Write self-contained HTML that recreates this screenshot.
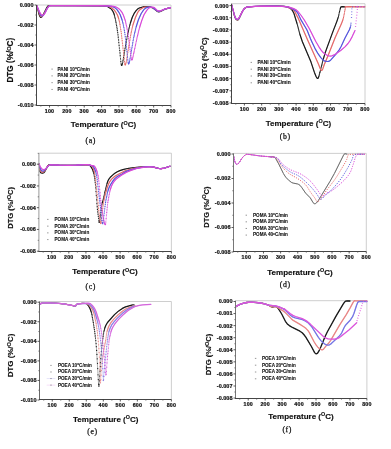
<!DOCTYPE html>
<html><head><meta charset="utf-8"><style>
html,body{margin:0;padding:0;background:#fff;}
svg{display:block;font-family:"Liberation Sans", sans-serif;}
</style></head><body>
<svg width="391" height="449" viewBox="0 0 391 449" xmlns="http://www.w3.org/2000/svg">
<defs><filter id="bl" x="0" y="0" width="391" height="449" filterUnits="userSpaceOnUse"><feGaussianBlur stdDeviation="0.22"/></filter></defs>
<rect width="391" height="449" fill="#fff"/>
<g filter="url(#bl)">
<line x1="36.5" y1="5" x2="171" y2="5" stroke="#c8c8c8" stroke-width="0.9"/>
<line x1="171" y1="5" x2="171" y2="105.5" stroke="#c8c8c8" stroke-width="0.9"/>
<path d="M36.8,5.6L39.2,14.7L40.1,16.8L40.9,17.4L41.6,17.1L42.4,16.2L46.2,8.6L47.5,6.5L48.6,5.5L102.4,5.9L107.2,6.5L110.3,8.3L111.9,9.8L113.6,12.9L114.7,16.5L116.0,22.4L117.9,34.2L121.0,62.9L121.3,64.8L121.7,65.5L122.2,64.7L122.7,62.4L127.2,36.7L129.9,24.8L131.4,19.6L132.7,16.3L134.4,13.0L136.2,10.5L137.4,9.2L139.1,8.2L144.3,6.6L149.0,6.9L152.1,7.6L153.7,8.5L157.0,11.2L158.8,11.8L160.6,11.4L164.7,9.2L170.5,7.7" fill="none" stroke="#1a1a1a" stroke-opacity="0.45" stroke-width="0.75"/>
<path d="M36.8,5.6l.01,0M37.1,6.8l.01,0M37.4,7.9l.01,0M37.6,9.1l.01,0M37.9,10.2l.01,0M38.2,11.3l.01,0M38.5,12.3L39.3,15.1L40.2,16.9L40.7,17.4L41.6,17.2L42.7,15.7L46.6,7.9L47.7,6.3L48.6,5.5L101.5,5.9L105.1,6.1L107.1,6.4L107.9,6.8L110.4,8.4L111.6,9.4L113.0,11.5L113.8,13.3L114.4,15.1M114.6,16.1l.01,0M114.9,17.3l.01,0M115.2,18.5l.01,0M115.5,19.8l.01,0M115.8,21.1l.01,0M116.0,22.5l.01,0M116.3,24.0l.01,0M116.6,25.5l.01,0M116.9,27.1l.01,0M117.2,28.8l.01,0M117.4,30.6l.01,0M117.7,32.6l.01,0M118.0,34.8l.01,0M118.3,37.2l.01,0M118.6,39.9l.01,0M118.8,42.6l.01,0M119.1,45.3l.01,0M119.4,48.0l.01,0M119.7,50.5l.01,0M120.0,52.9l.01,0M120.2,55.7l.01,0M120.5,58.8l.01,0M120.8,61.6l.01,0M121.1,63.8l.01,0M121.4,65.0L121.6,65.5L121.9,65.3L122.2,64.6M122.5,63.5l.01,0M122.8,62.2l.01,0M123.0,60.7l.01,0M123.3,59.1l.01,0M123.6,57.4l.01,0M123.9,55.6l.01,0M124.2,53.9l.01,0M124.4,52.1l.01,0M124.7,50.3l.01,0M125.0,48.7l.01,0M125.3,47.1l.01,0M125.6,45.6l.01,0M125.8,44.1l.01,0M126.1,42.6l.01,0M126.4,41.0l.01,0M126.7,39.5l.01,0M127.0,38.0l.01,0M127.2,36.5l.01,0M127.5,35.1l.01,0M127.8,33.7l.01,0M128.1,32.4l.01,0M128.4,31.2l.01,0M128.6,30.0l.01,0M128.9,28.8l.01,0M129.2,27.7l.01,0M129.5,26.5l.01,0M129.8,25.4l.01,0M130.0,24.4l.01,0M130.3,23.3L132.3,17.3L134.5,12.8L135.9,10.8L137.3,9.3L138.4,8.5L139.8,7.8L144.3,6.6L148.0,6.7L150.5,7.1L153.0,8.0L156.9,11.1L158.0,11.7L158.9,11.8L160.6,11.4L164.8,9.2L170.5,7.7" fill="none" stroke="#1a1a1a" stroke-width="1.2" stroke-linecap="round" stroke-linejoin="round"/>
<path d="M36.8,5.6L39.7,14.5L40.6,16.2L41.4,16.7L42.2,16.4L43.0,15.6L47.1,8.1L48.4,6.3L49.5,5.5L103.1,5.8L108.7,6.4L112.1,8.2L114.4,10.2L116.5,13.4L118.0,16.4L119.2,20.6L121.2,32.5L124.6,62.7L124.8,64.4L125.2,65.0L125.6,64.3L126.3,61.6L130.6,35.5L132.4,27.3L133.7,22.4L135.5,17.3L137.1,13.6L138.6,11.1L140.1,9.5L142.0,8.2L143.5,7.4L145.2,7.1L149.1,7.0L152.2,7.6L153.8,8.4L157.0,10.9L158.8,11.5L160.6,11.2L164.7,9.2L170.5,7.7" fill="none" stroke="#e46a6a" stroke-opacity="0.45" stroke-width="0.75"/>
<path d="M36.8,5.6L39.6,14.3L40.7,16.4L41.6,16.6L42.1,16.4L43.0,15.6L47.2,8.0L48.3,6.5L49.4,5.5L96.7,5.7L103.7,5.8L107.9,6.2L109.6,6.7L111.6,7.8L113.0,8.8L114.4,10.2L116.0,12.5L117.2,14.5L118.0,16.5L118.8,19.2M119.1,20.3l.01,0M119.4,21.6l.01,0M119.7,22.9l.01,0M120.0,24.4l.01,0M120.2,26.1l.01,0M120.5,27.8l.01,0M120.8,29.7l.01,0M121.1,31.6l.01,0M121.4,33.6l.01,0M121.6,35.9l.01,0M121.9,38.2l.01,0M122.2,40.7l.01,0M122.5,43.2l.01,0M122.8,45.7l.01,0M123.0,48.1l.01,0M123.3,50.5l.01,0M123.6,52.8l.01,0M123.9,55.6l.01,0M124.2,58.7l.01,0M124.4,61.7l.01,0M124.7,63.8l.01,0M125.0,64.8L125.3,65.0L125.8,63.6M126.1,62.3l.01,0M126.4,60.9l.01,0M126.7,59.2l.01,0M127.0,57.5l.01,0M127.2,55.8l.01,0M127.5,54.0l.01,0M127.8,52.2l.01,0M128.1,50.5l.01,0M128.4,48.8l.01,0M128.6,47.2l.01,0M128.9,45.6l.01,0M129.2,44.0l.01,0M129.5,42.3l.01,0M129.8,40.6l.01,0M130.0,39.0l.01,0M130.3,37.3l.01,0M130.6,35.7l.01,0M130.9,34.1l.01,0M131.2,32.7l.01,0M131.4,31.3l.01,0M131.7,30.0l.01,0M132.0,28.8l.01,0M132.3,27.6l.01,0M132.6,26.5l.01,0M132.8,25.4L135.4,17.6L137.6,12.7L138.7,11.0L139.8,9.8L142.9,7.7L144.6,7.1L146.6,7.0L149.4,7.1L151.6,7.4L153.6,8.2L157.2,11.0L158.0,11.4L158.9,11.5L160.6,11.2L164.8,9.2L170.5,7.7" fill="none" stroke="#e46a6a" stroke-width="1.2" stroke-linecap="round" stroke-linejoin="round"/>
<path d="M36.8,5.6L40.1,14.1L41.0,15.6L41.9,15.9L42.8,15.7L43.7,14.9L47.5,7.9L48.8,6.3L50.1,5.5L103.8,5.8L111.6,6.4L113.3,6.9L115.0,7.8L117.1,9.8L120.0,14.2L121.4,17.6L122.9,23.1L124.8,33.3L128.0,61.3L128.3,63.4L128.6,64.0L129.0,63.5L129.6,61.3L133.6,38.2L136.1,27.2L137.6,22.3L139.2,18.0L141.1,13.8L142.9,10.8L144.2,9.3L145.6,8.2L147.1,7.4L148.9,7.1L150.7,7.1L152.5,7.6L157.0,10.7L158.8,11.3L160.6,11.0L164.7,9.1L170.5,7.7" fill="none" stroke="#5555dc" stroke-opacity="0.45" stroke-width="0.75"/>
<path d="M36.8,5.6L40.2,14.2L41.0,15.6L41.8,15.9L42.7,15.8L43.5,15.1L44.9,12.8L47.4,8.0L48.8,6.3L50.0,5.5L97.6,5.7L106.0,5.9L111.6,6.4L113.2,6.9L114.9,7.7L116.0,8.6L117.2,9.8L119.1,12.7L120.2,14.8L122.2,20.3M122.5,21.3l.01,0M122.8,22.4l.01,0M123.0,23.5l.01,0M123.3,24.8l.01,0M123.6,26.1l.01,0M123.9,27.5l.01,0M124.2,29.0l.01,0M124.4,30.6l.01,0M124.7,32.4l.01,0M125.0,34.5l.01,0M125.3,36.7l.01,0M125.6,39.1l.01,0M125.8,41.6l.01,0M126.1,44.2l.01,0M126.4,46.8l.01,0M126.7,49.3l.01,0M127.0,51.7l.01,0M127.2,54.1l.01,0M127.5,56.9l.01,0M127.8,59.9l.01,0M128.1,62.2l.01,0M128.4,63.6L128.6,64.0L129.2,62.8M129.5,61.7l.01,0M129.8,60.2l.01,0M130.0,58.7l.01,0M130.3,57.0l.01,0M130.6,55.3l.01,0M130.9,53.6l.01,0M131.2,51.9l.01,0M131.4,50.3l.01,0M131.7,48.8l.01,0M132.0,47.2l.01,0M132.3,45.6l.01,0M132.6,43.9l.01,0M132.8,42.3l.01,0M133.1,40.6l.01,0M133.4,39.1l.01,0M133.7,37.6l.01,0M134.0,36.2l.01,0M134.2,34.9l.01,0M134.5,33.6l.01,0M134.8,32.4l.01,0M135.1,31.2l.01,0M135.4,30.0l.01,0M135.6,28.9l.01,0M135.9,27.8l.01,0M136.2,26.8L138.4,19.8L141.2,13.5L143.5,10.1L144.6,8.9L146.0,7.9L147.4,7.4L148.8,7.1L151.3,7.2L153.3,8.0L157.2,10.9L158.9,11.3L160.6,11.0L164.8,9.1L170.5,7.7" fill="none" stroke="#5555dc" stroke-width="1.2" stroke-linecap="round" stroke-linejoin="round"/>
<path d="M36.8,5.6L40.3,13.2L41.4,14.9L42.4,15.2L43.5,14.9L44.4,14.0L48.0,7.4L49.2,6.4L50.8,5.5L105.1,5.8L113.4,6.3L115.5,6.8L117.3,7.6L119.7,9.5L122.1,12.6L123.7,15.8L125.2,20.2L127.6,31.7L131.1,57.1L131.5,59.3L131.9,60.0L132.3,59.5L132.7,58.0L136.9,38.6L140.1,25.5L143.5,16.0L145.0,13.0L146.7,10.4L148.8,8.1L150.0,7.5L151.4,7.2L152.8,7.2L154.2,7.6L157.2,10.4L158.7,11.0L160.5,10.7L164.7,9.0L170.5,7.6" fill="none" stroke="#d84ad8" stroke-opacity="0.45" stroke-width="0.75"/>
<path d="M36.8,5.6L38.8,10.2L40.4,13.4L41.6,15.0L42.4,15.2L43.5,14.9L44.4,14.1L46.0,11.3L47.4,8.2L48.0,7.4L49.1,6.4L50.8,5.5L100.4,5.7L107.4,5.9L113.5,6.3L115.5,6.8L117.4,7.7L119.1,8.9L120.5,10.4L122.2,12.7L123.3,14.9L125.3,20.6M125.6,21.7l.01,0M125.8,22.9l.01,0M126.1,24.1l.01,0M126.4,25.3l.01,0M126.7,26.7l.01,0M127.0,28.1l.01,0M127.2,29.6l.01,0M127.5,31.1l.01,0M127.8,32.8l.01,0M128.1,34.6l.01,0M128.4,36.6l.01,0M128.6,38.7l.01,0M128.9,40.9l.01,0M129.2,43.0l.01,0M129.5,45.2l.01,0M129.8,47.3l.01,0M130.0,49.3l.01,0M130.3,51.3l.01,0M130.6,53.6l.01,0M130.9,55.8l.01,0M131.2,57.8l.01,0M131.4,59.2L131.7,59.9L132.0,60.0L132.6,58.7M132.8,57.5l.01,0M133.1,56.2l.01,0M133.4,54.8l.01,0M133.7,53.4l.01,0M134.0,52.2l.01,0M134.2,51.0l.01,0M134.5,49.7l.01,0M134.8,48.4l.01,0M135.1,47.0l.01,0M135.4,45.7l.01,0M135.6,44.3l.01,0M135.9,43.0l.01,0M136.2,41.6l.01,0M136.5,40.3l.01,0M136.8,39.1l.01,0M137.0,37.8l.01,0M137.3,36.6l.01,0M137.6,35.4l.01,0M137.9,34.2l.01,0M138.2,33.0l.01,0M138.4,31.9l.01,0M138.7,30.7l.01,0M139.0,29.6l.01,0M139.3,28.6l.01,0M139.6,27.5L141.8,20.4L144.0,14.8L146.6,10.6L148.0,8.9L149.1,7.9L151.3,7.2L152.4,7.1L153.6,7.3L154.7,7.9L157.5,10.6L158.9,11.0L160.6,10.7L164.8,9.0L170.5,7.6" fill="none" stroke="#d84ad8" stroke-width="1.2" stroke-linecap="round" stroke-linejoin="round"/>
<line x1="36.5" y1="5" x2="36.5" y2="105.5" stroke="#444" stroke-width="1"/>
<line x1="36.0" y1="105.5" x2="171" y2="105.5" stroke="#444" stroke-width="1"/>
<line x1="34.5" y1="5.00" x2="36.5" y2="5.00" stroke="#333" stroke-width="0.8"/>
<line x1="35.3" y1="15.00" x2="36.5" y2="15.00" stroke="#555" stroke-width="0.7"/>
<text x="33.5" y="6.90" text-anchor="end" font-size="5.5" letter-spacing="0.02" font-weight="bold" fill="#111" stroke="#111" stroke-width="0.2">0.000</text>
<line x1="34.5" y1="25.00" x2="36.5" y2="25.00" stroke="#333" stroke-width="0.8"/>
<line x1="35.3" y1="35.00" x2="36.5" y2="35.00" stroke="#555" stroke-width="0.7"/>
<text x="33.5" y="26.90" text-anchor="end" font-size="5.5" letter-spacing="0.02" font-weight="bold" fill="#111" stroke="#111" stroke-width="0.2">-0.002</text>
<line x1="34.5" y1="45.00" x2="36.5" y2="45.00" stroke="#333" stroke-width="0.8"/>
<line x1="35.3" y1="55.00" x2="36.5" y2="55.00" stroke="#555" stroke-width="0.7"/>
<text x="33.5" y="46.90" text-anchor="end" font-size="5.5" letter-spacing="0.02" font-weight="bold" fill="#111" stroke="#111" stroke-width="0.2">-0.004</text>
<line x1="34.5" y1="65.00" x2="36.5" y2="65.00" stroke="#333" stroke-width="0.8"/>
<line x1="35.3" y1="75.00" x2="36.5" y2="75.00" stroke="#555" stroke-width="0.7"/>
<text x="33.5" y="66.90" text-anchor="end" font-size="5.5" letter-spacing="0.02" font-weight="bold" fill="#111" stroke="#111" stroke-width="0.2">-0.006</text>
<line x1="34.5" y1="85.00" x2="36.5" y2="85.00" stroke="#333" stroke-width="0.8"/>
<line x1="35.3" y1="95.00" x2="36.5" y2="95.00" stroke="#555" stroke-width="0.7"/>
<text x="33.5" y="86.90" text-anchor="end" font-size="5.5" letter-spacing="0.02" font-weight="bold" fill="#111" stroke="#111" stroke-width="0.2">-0.008</text>
<line x1="34.5" y1="105.00" x2="36.5" y2="105.00" stroke="#333" stroke-width="0.8"/>
<text x="33.5" y="106.90" text-anchor="end" font-size="5.5" letter-spacing="0.02" font-weight="bold" fill="#111" stroke="#111" stroke-width="0.2">-0.010</text>
<line x1="49.52" y1="105.5" x2="49.52" y2="107.5" stroke="#333" stroke-width="0.8"/>
<text x="49.52" y="113.30" text-anchor="middle" font-size="5.3" letter-spacing="0.2" font-weight="bold" fill="#111" stroke="#111" stroke-width="0.2">100</text>
<line x1="66.87" y1="105.5" x2="66.87" y2="107.5" stroke="#333" stroke-width="0.8"/>
<text x="66.87" y="113.30" text-anchor="middle" font-size="5.3" letter-spacing="0.2" font-weight="bold" fill="#111" stroke="#111" stroke-width="0.2">200</text>
<line x1="84.23" y1="105.5" x2="84.23" y2="107.5" stroke="#333" stroke-width="0.8"/>
<text x="84.23" y="113.30" text-anchor="middle" font-size="5.3" letter-spacing="0.2" font-weight="bold" fill="#111" stroke="#111" stroke-width="0.2">300</text>
<line x1="101.58" y1="105.5" x2="101.58" y2="107.5" stroke="#333" stroke-width="0.8"/>
<text x="101.58" y="113.30" text-anchor="middle" font-size="5.3" letter-spacing="0.2" font-weight="bold" fill="#111" stroke="#111" stroke-width="0.2">400</text>
<line x1="118.94" y1="105.5" x2="118.94" y2="107.5" stroke="#333" stroke-width="0.8"/>
<text x="118.94" y="113.30" text-anchor="middle" font-size="5.3" letter-spacing="0.2" font-weight="bold" fill="#111" stroke="#111" stroke-width="0.2">500</text>
<line x1="136.29" y1="105.5" x2="136.29" y2="107.5" stroke="#333" stroke-width="0.8"/>
<text x="136.29" y="113.30" text-anchor="middle" font-size="5.3" letter-spacing="0.2" font-weight="bold" fill="#111" stroke="#111" stroke-width="0.2">600</text>
<line x1="153.65" y1="105.5" x2="153.65" y2="107.5" stroke="#333" stroke-width="0.8"/>
<text x="153.65" y="113.30" text-anchor="middle" font-size="5.3" letter-spacing="0.2" font-weight="bold" fill="#111" stroke="#111" stroke-width="0.2">700</text>
<line x1="171.00" y1="105.5" x2="171.00" y2="107.5" stroke="#333" stroke-width="0.8"/>
<text x="171.00" y="113.30" text-anchor="middle" font-size="5.3" letter-spacing="0.2" font-weight="bold" fill="#111" stroke="#111" stroke-width="0.2">800</text>
<line x1="40.84" y1="105.5" x2="40.84" y2="106.7" stroke="#555" stroke-width="0.7"/>
<line x1="58.19" y1="105.5" x2="58.19" y2="106.7" stroke="#555" stroke-width="0.7"/>
<line x1="75.55" y1="105.5" x2="75.55" y2="106.7" stroke="#555" stroke-width="0.7"/>
<line x1="92.90" y1="105.5" x2="92.90" y2="106.7" stroke="#555" stroke-width="0.7"/>
<line x1="110.26" y1="105.5" x2="110.26" y2="106.7" stroke="#555" stroke-width="0.7"/>
<line x1="127.61" y1="105.5" x2="127.61" y2="106.7" stroke="#555" stroke-width="0.7"/>
<line x1="144.97" y1="105.5" x2="144.97" y2="106.7" stroke="#555" stroke-width="0.7"/>
<line x1="162.32" y1="105.5" x2="162.32" y2="106.7" stroke="#555" stroke-width="0.7"/>
<text x="103.5" y="127.3" text-anchor="middle" font-size="8" font-weight="bold" fill="#111" stroke="#111" stroke-width="0.15">Temperature (<tspan dy="-2.6" font-size="5.4">O</tspan><tspan dy="2.6">C)</tspan></text>
<text transform="translate(13.2,60.2) rotate(-90)" text-anchor="middle" font-size="8.2" font-weight="bold" fill="#111" stroke="#111" stroke-width="0.15">DTG (%/<tspan dy="-2.4" font-size="5.6">O</tspan><tspan dy="2.4">C)</tspan></text>
<text x="90.8" y="142.8" text-anchor="middle" font-family='"Liberation Serif", serif' font-size="7.8" letter-spacing="0.6" fill="#111" stroke="#111" stroke-width="0.25">(a)</text>
<line x1="51.4" y1="69.10" x2="52.800000000000004" y2="69.10" stroke="#8a8a8a" stroke-width="0.9"/>
<text x="57.6" y="70.50" textLength="32.2" lengthAdjust="spacingAndGlyphs" font-size="4.7" font-weight="bold" fill="#111" stroke="#111" stroke-width="0.1">PANI 10<tspan dy="-1.9" font-size="3.2">o</tspan><tspan dy="1.9">C/min</tspan></text>
<line x1="51.4" y1="75.88" x2="52.800000000000004" y2="75.88" stroke="#8a8a8a" stroke-width="0.9"/>
<text x="57.6" y="77.28" textLength="32.2" lengthAdjust="spacingAndGlyphs" font-size="4.7" font-weight="bold" fill="#111" stroke="#111" stroke-width="0.1">PANI 20<tspan dy="-1.9" font-size="3.2">o</tspan><tspan dy="1.9">C/min</tspan></text>
<line x1="51.4" y1="82.66" x2="52.800000000000004" y2="82.66" stroke="#8a8a8a" stroke-width="0.9"/>
<text x="57.6" y="84.06" textLength="32.2" lengthAdjust="spacingAndGlyphs" font-size="4.7" font-weight="bold" fill="#111" stroke="#111" stroke-width="0.1">PANI 30<tspan dy="-1.9" font-size="3.2">o</tspan><tspan dy="1.9">C/min</tspan></text>
<line x1="51.4" y1="89.44" x2="52.800000000000004" y2="89.44" stroke="#8a8a8a" stroke-width="0.9"/>
<text x="57.6" y="90.84" textLength="32.2" lengthAdjust="spacingAndGlyphs" font-size="4.7" font-weight="bold" fill="#111" stroke="#111" stroke-width="0.1">PANI 40<tspan dy="-1.9" font-size="3.2">o</tspan><tspan dy="1.9">C/min</tspan></text>
<line x1="231.5" y1="3.7" x2="365" y2="3.7" stroke="#c8c8c8" stroke-width="0.9"/>
<line x1="365" y1="3.7" x2="365" y2="103.5" stroke="#c8c8c8" stroke-width="0.9"/>
<path d="M231.8,5.0L234.9,17.3L236.0,19.2L237.3,20.0L238.1,19.7L239.0,18.7L242.6,11.2L243.8,9.2L245.1,8.0L247.2,7.0L251.6,6.6L260.7,6.2L280.1,6.1L283.9,6.4L287.2,6.9L289.3,7.7L290.7,8.6L292.4,10.6L293.8,13.3L296.4,21.2L300.2,35.4L301.9,40.5L310.8,61.5L315.3,74.7L316.6,77.6L317.6,78.5L318.2,78.2L318.7,76.9L323.1,59.8L325.6,51.7L337.7,19.0L340.7,7.3L340.9,6.9L342.0,6.7L345.0,6.8" fill="none" stroke="#1a1a1a" stroke-opacity="0.45" stroke-width="0.75"/>
<path d="M231.8,5.0l.01,0M232.1,6.2l.01,0M232.4,7.4l.01,0M232.6,8.5l.01,0M232.9,9.7l.01,0M233.2,10.8l.01,0M233.5,11.9l.01,0M233.8,13.1l.01,0M234.0,14.2l.01,0M234.3,15.3L235.2,17.9L236.0,19.2L237.1,19.9L238.0,19.8L239.1,18.5L242.4,11.5L243.8,9.2L245.2,8.0L246.6,7.2L247.5,7.0L254.2,6.5L265.7,6.1L278.0,6.1L284.4,6.4L287.2,6.9L289.2,7.6L290.6,8.5L292.3,10.4L293.1,11.7L294.0,13.6L297.0,23.5M297.3,24.6l.01,0M297.6,25.6l.01,0M297.9,26.6l.01,0M298.2,27.7l.01,0M298.4,28.8l.01,0M298.7,29.8l.01,0M299.0,30.9l.01,0M299.3,32.0l.01,0M299.6,33.0l.01,0M299.8,34.0L302.4,41.8L311.0,62.1L314.4,72.4L316.1,76.5L316.9,78.0L317.5,78.5L317.8,78.5L318.3,77.9L318.9,76.3M319.2,75.2l.01,0M319.4,74.1l.01,0M319.7,73.0L320.0,72.0M320.3,71.0l.01,0M320.6,69.9l.01,0M320.8,68.8l.01,0M321.1,67.7l.01,0M321.4,66.5l.01,0M321.7,65.4l.01,0M322.0,64.2l.01,0M322.2,63.1l.01,0M322.5,62.0l.01,0M322.8,60.9l.01,0M323.1,59.9l.01,0M323.4,58.9L325.0,53.3L327.3,46.9L332.6,32.4L336.8,21.6L338.2,17.4M338.5,16.3l.01,0M338.8,15.2l.01,0M339.0,14.0l.01,0M339.3,12.7l.01,0M339.6,11.4l.01,0M339.9,10.1l.01,0M340.2,9.0L340.7,7.2L341.0,6.9L342.4,6.7L345.0,6.8" fill="none" stroke="#1a1a1a" stroke-width="1.2" stroke-linecap="round" stroke-linejoin="round"/>
<path d="M231.8,5.0L234.9,17.1L236.0,19.0L237.3,19.8L238.1,19.5L239.0,18.5L242.5,11.4L243.9,9.1L245.2,8.0L247.4,7.0L252.9,6.5L264.1,6.2L282.3,6.3L287.1,6.9L290.0,8.5L293.0,9.5L293.8,10.3L295.0,11.9L298.1,18.1L307.3,39.2L318.2,63.4L320.4,68.9L321.1,70.1L321.6,70.5L322.1,70.3L322.7,69.2L324.4,64.3L328.3,55.0L335.5,36.7L342.3,21.6L343.5,17.4L345.4,8.2L345.4,7.4L345.1,6.8L351.4,6.7L365.0,6.8" fill="none" stroke="#e46a6a" stroke-opacity="0.45" stroke-width="0.75"/>
<path d="M231.8,5.0l.01,0M232.1,6.1l.01,0M232.4,7.3l.01,0M232.6,8.4l.01,0M232.9,9.5l.01,0M233.2,10.6l.01,0M233.5,11.7l.01,0M233.8,12.9l.01,0M234.0,14.0l.01,0M234.3,15.1L234.9,17.0L235.7,18.6L236.8,19.6L237.4,19.8L238.0,19.6L239.1,18.3L242.4,11.5L244.1,8.9L245.0,8.1L246.4,7.3L248.6,6.8L255.6,6.4L265.7,6.1L275.8,6.1L282.8,6.3L285.6,6.6L287.2,6.9L290.0,8.5L292.8,9.4L293.7,10.1L294.8,11.7L297.9,17.6L307.4,39.4L318.3,63.7L320.3,68.7L321.1,70.2L321.7,70.5L322.2,70.1L322.8,68.9L324.2,64.8L328.4,54.8L335.1,37.7L341.3,24.1L343.0,19.5M343.2,18.5l.01,0M343.5,17.4l.01,0M343.8,16.1l.01,0M344.1,14.7l.01,0M344.4,13.2l.01,0M344.6,11.6l.01,0M344.9,10.1l.01,0M345.2,8.9l.01,0M345.4,7.3L345.1,6.9L348.4,6.7L365.0,6.8" fill="none" stroke="#e46a6a" stroke-width="1.2" stroke-linecap="round" stroke-linejoin="round"/>
<path d="M231.8,5.0L234.9,16.8L236.0,18.7L237.3,19.5L238.1,19.2L238.9,18.3L242.5,11.4L244.0,9.0L245.2,8.0L247.4,7.0L253.6,6.5L264.9,6.1L275.7,6.1L283.4,6.4L288.5,7.1L294.6,10.0L296.4,11.3L297.6,12.8L301.0,20.0L306.6,29.2L307.9,32.0L311.4,40.9L314.4,47.2L317.0,52.0L319.6,55.9L322.3,59.3L324.0,60.8L325.7,61.4L328.2,61.5L330.4,60.4L336.0,54.1L339.3,49.6L341.3,46.0L345.2,37.6L349.7,29.0L350.6,26.4L351.0,23.0" fill="none" stroke="#5555dc" stroke-opacity="0.45" stroke-width="0.75"/>
<path d="M231.8,5.0l.01,0M232.1,6.1l.01,0M232.4,7.1l.01,0M232.6,8.2l.01,0M232.9,9.3l.01,0M233.2,10.3l.01,0M233.5,11.4l.01,0M233.8,12.5l.01,0M234.0,13.7l.01,0M234.3,14.8l.01,0M234.6,15.8L235.2,17.4L236.0,18.7L237.1,19.4L238.0,19.3L239.1,18.0L242.4,11.4L244.1,8.9L245.0,8.1L246.4,7.3L248.3,6.8L255.0,6.4L265.7,6.1L275.8,6.1L282.8,6.3L286.1,6.6L288.4,7.1L293.7,9.5L296.2,11.2L297.9,13.3L301.0,19.9L305.4,27.2L307.1,30.2L310.5,38.8L312.2,42.5L315.5,49.4L318.0,53.7L320.8,57.6L323.4,60.3L325.0,61.2L327.3,61.5L328.7,61.4L330.6,60.2L336.0,54.1L339.0,50.1L341.0,46.7L344.9,38.2L349.4,29.7L350.5,26.8M350.8,25.2l.01,0M351.0,23.0l.01,0" fill="none" stroke="#5555dc" stroke-width="1.2" stroke-linecap="round" stroke-linejoin="round"/>
<path d="M351.50,18.00 L351.55,16.81 L351.61,15.08 L351.69,13.08 L351.78,11.05 L351.88,9.27 L352.00,8.00 L352.01,7.28 L351.89,6.90 L351.78,6.78 L351.83,6.79 L352.19,6.83 L353.00,6.80 L354.50,6.73 L356.63,6.71 L359.06,6.72 L361.48,6.76 L363.57,6.79 L365.00,6.80" fill="none" stroke="#5555dc" stroke-width="1.2" stroke-dasharray="0.7 2.2"/>
<path d="M231.8,5.0L234.9,16.6L236.0,18.5L237.3,19.3L238.1,19.0L238.8,18.2L242.4,11.5L244.1,8.9L245.4,7.9L247.4,7.0L252.9,6.5L264.1,6.2L282.1,6.3L288.7,7.0L295.1,9.2L297.0,10.5L298.9,12.5L304.5,20.3L309.2,28.5L315.8,41.4L321.0,50.0L322.5,51.9L324.0,53.3L326.7,55.1L328.6,55.9L331.3,56.0L334.0,55.0L339.9,51.1L344.7,47.1L347.8,43.8L350.2,40.3L352.2,36.6L355.0,30.5" fill="none" stroke="#d84ad8" stroke-opacity="0.45" stroke-width="0.75"/>
<path d="M231.8,5.0l.01,0M232.1,6.0l.01,0M232.4,7.0l.01,0M232.6,8.1l.01,0M232.9,9.1l.01,0M233.2,10.1l.01,0M233.5,11.2l.01,0M233.8,12.3l.01,0M234.0,13.5l.01,0M234.3,14.6l.01,0M234.6,15.6L235.2,17.2L236.0,18.5L237.1,19.2L238.0,19.1L238.8,18.2L242.4,11.4L244.1,8.9L245.0,8.1L246.4,7.3L248.3,6.8L255.0,6.4L264.8,6.1L281.6,6.3L288.4,6.9L294.5,8.9L296.5,10.1L298.4,12.0L301.2,15.5L304.3,20.0L309.4,28.7L315.8,41.5L318.9,46.8L321.1,50.2L323.1,52.5L325.3,54.2L327.6,55.6L329.2,56.0L330.6,56.1L331.8,55.9L334.8,54.5L340.7,50.5L345.2,46.6L348.0,43.5L350.2,40.3L352.2,36.6L355.0,30.5" fill="none" stroke="#d84ad8" stroke-width="1.2" stroke-linecap="round" stroke-linejoin="round"/>
<path d="M355.50,27.00 L355.61,26.03 L355.76,24.70 L355.94,23.12 L356.13,21.41 L356.32,19.66 L356.50,18.00 L356.67,16.29 L356.85,14.41 L357.03,12.51 L357.20,10.72 L357.36,9.17 L357.50,8.00 L357.54,7.28 L357.46,6.90 L357.38,6.78 L357.37,6.79 L357.55,6.83 L358.00,6.80 L358.87,6.73 L360.11,6.71 L361.53,6.72 L362.94,6.76 L364.16,6.79 L365.00,6.80" fill="none" stroke="#d84ad8" stroke-width="1.2" stroke-dasharray="0.7 2.2"/>
<line x1="231.5" y1="3.7" x2="231.5" y2="103.5" stroke="#444" stroke-width="1"/>
<line x1="231.0" y1="103.5" x2="365" y2="103.5" stroke="#444" stroke-width="1"/>
<line x1="229.5" y1="5.60" x2="231.5" y2="5.60" stroke="#333" stroke-width="0.8"/>
<line x1="230.3" y1="11.68" x2="231.5" y2="11.68" stroke="#555" stroke-width="0.7"/>
<text x="228.5" y="7.50" text-anchor="end" font-size="5.5" letter-spacing="0.02" font-weight="bold" fill="#111" stroke="#111" stroke-width="0.2">0.000</text>
<line x1="229.5" y1="17.77" x2="231.5" y2="17.77" stroke="#333" stroke-width="0.8"/>
<line x1="230.3" y1="23.86" x2="231.5" y2="23.86" stroke="#555" stroke-width="0.7"/>
<text x="228.5" y="19.67" text-anchor="end" font-size="5.5" letter-spacing="0.02" font-weight="bold" fill="#111" stroke="#111" stroke-width="0.2">-0.001</text>
<line x1="229.5" y1="29.94" x2="231.5" y2="29.94" stroke="#333" stroke-width="0.8"/>
<line x1="230.3" y1="36.02" x2="231.5" y2="36.02" stroke="#555" stroke-width="0.7"/>
<text x="228.5" y="31.84" text-anchor="end" font-size="5.5" letter-spacing="0.02" font-weight="bold" fill="#111" stroke="#111" stroke-width="0.2">-0.002</text>
<line x1="229.5" y1="42.11" x2="231.5" y2="42.11" stroke="#333" stroke-width="0.8"/>
<line x1="230.3" y1="48.20" x2="231.5" y2="48.20" stroke="#555" stroke-width="0.7"/>
<text x="228.5" y="44.01" text-anchor="end" font-size="5.5" letter-spacing="0.02" font-weight="bold" fill="#111" stroke="#111" stroke-width="0.2">-0.003</text>
<line x1="229.5" y1="54.28" x2="231.5" y2="54.28" stroke="#333" stroke-width="0.8"/>
<line x1="230.3" y1="60.37" x2="231.5" y2="60.37" stroke="#555" stroke-width="0.7"/>
<text x="228.5" y="56.18" text-anchor="end" font-size="5.5" letter-spacing="0.02" font-weight="bold" fill="#111" stroke="#111" stroke-width="0.2">-0.004</text>
<line x1="229.5" y1="66.45" x2="231.5" y2="66.45" stroke="#333" stroke-width="0.8"/>
<line x1="230.3" y1="72.53" x2="231.5" y2="72.53" stroke="#555" stroke-width="0.7"/>
<text x="228.5" y="68.35" text-anchor="end" font-size="5.5" letter-spacing="0.02" font-weight="bold" fill="#111" stroke="#111" stroke-width="0.2">-0.005</text>
<line x1="229.5" y1="78.62" x2="231.5" y2="78.62" stroke="#333" stroke-width="0.8"/>
<line x1="230.3" y1="84.70" x2="231.5" y2="84.70" stroke="#555" stroke-width="0.7"/>
<text x="228.5" y="80.52" text-anchor="end" font-size="5.5" letter-spacing="0.02" font-weight="bold" fill="#111" stroke="#111" stroke-width="0.2">-0.006</text>
<line x1="229.5" y1="90.79" x2="231.5" y2="90.79" stroke="#333" stroke-width="0.8"/>
<line x1="230.3" y1="96.87" x2="231.5" y2="96.87" stroke="#555" stroke-width="0.7"/>
<text x="228.5" y="92.69" text-anchor="end" font-size="5.5" letter-spacing="0.02" font-weight="bold" fill="#111" stroke="#111" stroke-width="0.2">-0.007</text>
<line x1="229.5" y1="102.96" x2="231.5" y2="102.96" stroke="#333" stroke-width="0.8"/>
<text x="228.5" y="104.86" text-anchor="end" font-size="5.5" letter-spacing="0.02" font-weight="bold" fill="#111" stroke="#111" stroke-width="0.2">-0.008</text>
<line x1="244.42" y1="103.5" x2="244.42" y2="105.5" stroke="#333" stroke-width="0.8"/>
<text x="244.42" y="111.30" text-anchor="middle" font-size="5.3" letter-spacing="0.2" font-weight="bold" fill="#111" stroke="#111" stroke-width="0.2">100</text>
<line x1="261.65" y1="103.5" x2="261.65" y2="105.5" stroke="#333" stroke-width="0.8"/>
<text x="261.65" y="111.30" text-anchor="middle" font-size="5.3" letter-spacing="0.2" font-weight="bold" fill="#111" stroke="#111" stroke-width="0.2">200</text>
<line x1="278.87" y1="103.5" x2="278.87" y2="105.5" stroke="#333" stroke-width="0.8"/>
<text x="278.87" y="111.30" text-anchor="middle" font-size="5.3" letter-spacing="0.2" font-weight="bold" fill="#111" stroke="#111" stroke-width="0.2">300</text>
<line x1="296.10" y1="103.5" x2="296.10" y2="105.5" stroke="#333" stroke-width="0.8"/>
<text x="296.10" y="111.30" text-anchor="middle" font-size="5.3" letter-spacing="0.2" font-weight="bold" fill="#111" stroke="#111" stroke-width="0.2">400</text>
<line x1="313.32" y1="103.5" x2="313.32" y2="105.5" stroke="#333" stroke-width="0.8"/>
<text x="313.32" y="111.30" text-anchor="middle" font-size="5.3" letter-spacing="0.2" font-weight="bold" fill="#111" stroke="#111" stroke-width="0.2">500</text>
<line x1="330.55" y1="103.5" x2="330.55" y2="105.5" stroke="#333" stroke-width="0.8"/>
<text x="330.55" y="111.30" text-anchor="middle" font-size="5.3" letter-spacing="0.2" font-weight="bold" fill="#111" stroke="#111" stroke-width="0.2">600</text>
<line x1="347.77" y1="103.5" x2="347.77" y2="105.5" stroke="#333" stroke-width="0.8"/>
<text x="347.77" y="111.30" text-anchor="middle" font-size="5.3" letter-spacing="0.2" font-weight="bold" fill="#111" stroke="#111" stroke-width="0.2">700</text>
<line x1="365.00" y1="103.5" x2="365.00" y2="105.5" stroke="#333" stroke-width="0.8"/>
<text x="365.00" y="111.30" text-anchor="middle" font-size="5.3" letter-spacing="0.2" font-weight="bold" fill="#111" stroke="#111" stroke-width="0.2">800</text>
<line x1="235.81" y1="103.5" x2="235.81" y2="104.7" stroke="#555" stroke-width="0.7"/>
<line x1="253.03" y1="103.5" x2="253.03" y2="104.7" stroke="#555" stroke-width="0.7"/>
<line x1="270.26" y1="103.5" x2="270.26" y2="104.7" stroke="#555" stroke-width="0.7"/>
<line x1="287.48" y1="103.5" x2="287.48" y2="104.7" stroke="#555" stroke-width="0.7"/>
<line x1="304.71" y1="103.5" x2="304.71" y2="104.7" stroke="#555" stroke-width="0.7"/>
<line x1="321.94" y1="103.5" x2="321.94" y2="104.7" stroke="#555" stroke-width="0.7"/>
<line x1="339.16" y1="103.5" x2="339.16" y2="104.7" stroke="#555" stroke-width="0.7"/>
<line x1="356.39" y1="103.5" x2="356.39" y2="104.7" stroke="#555" stroke-width="0.7"/>
<text x="298.4" y="125.8" text-anchor="middle" font-size="8" font-weight="bold" fill="#111" stroke="#111" stroke-width="0.15">Temperature (<tspan dy="-2.6" font-size="5.4">O</tspan><tspan dy="2.6">C)</tspan></text>
<text transform="translate(206.6,58.1) rotate(-90)" text-anchor="middle" font-size="7.5" font-weight="bold" fill="#111" stroke="#111" stroke-width="0.15">DTG (%/<tspan dy="-2.4" font-size="5.6">O</tspan><tspan dy="2.4">C)</tspan></text>
<text x="285.3" y="139.3" text-anchor="middle" font-family='"Liberation Serif", serif' font-size="7.8" letter-spacing="0.6" fill="#111" stroke="#111" stroke-width="0.25">(b)</text>
<line x1="250.60000000000002" y1="62.40" x2="252.0" y2="62.40" stroke="#8a8a8a" stroke-width="0.9"/>
<text x="257.4" y="63.80" textLength="33.2" lengthAdjust="spacingAndGlyphs" font-size="4.7" font-weight="bold" fill="#111" stroke="#111" stroke-width="0.1">PANI 10<tspan dy="-1.9" font-size="3.2">o</tspan><tspan dy="1.9">C/min</tspan></text>
<line x1="250.60000000000002" y1="69.20" x2="252.0" y2="69.20" stroke="#8a8a8a" stroke-width="0.9"/>
<text x="257.4" y="70.60" textLength="33.2" lengthAdjust="spacingAndGlyphs" font-size="4.7" font-weight="bold" fill="#111" stroke="#111" stroke-width="0.1">PANI 20<tspan dy="-1.9" font-size="3.2">o</tspan><tspan dy="1.9">C/min</tspan></text>
<line x1="250.60000000000002" y1="76.00" x2="252.0" y2="76.00" stroke="#8a8a8a" stroke-width="0.9"/>
<text x="257.4" y="77.40" textLength="33.2" lengthAdjust="spacingAndGlyphs" font-size="4.7" font-weight="bold" fill="#111" stroke="#111" stroke-width="0.1">PANI 30<tspan dy="-1.9" font-size="3.2">o</tspan><tspan dy="1.9">C/min</tspan></text>
<line x1="250.60000000000002" y1="82.80" x2="252.0" y2="82.80" stroke="#8a8a8a" stroke-width="0.9"/>
<text x="257.4" y="84.20" textLength="33.2" lengthAdjust="spacingAndGlyphs" font-size="4.7" font-weight="bold" fill="#111" stroke="#111" stroke-width="0.1">PANI 40<tspan dy="-1.9" font-size="3.2">o</tspan><tspan dy="1.9">C/min</tspan></text>
<line x1="38.9" y1="153.2" x2="171.4" y2="153.2" stroke="#c8c8c8" stroke-width="0.9"/>
<line x1="171.4" y1="153.2" x2="171.4" y2="251.5" stroke="#c8c8c8" stroke-width="0.9"/>
<path d="M39.2,164.0L39.5,168.6L40.1,171.6L40.8,172.8L42.0,173.2L43.3,173.0L44.3,172.2L47.6,165.9L48.4,165.1L49.4,164.7L59.5,165.3L68.0,165.4L76.1,165.3L87.2,164.6L88.7,164.8L90.4,165.9L92.1,168.5L93.0,170.5L94.5,177.3L95.6,186.4L97.3,207.7L99.2,222.5L99.8,219.9L102.0,204.2L107.0,183.4L108.1,180.7L109.4,178.4L111.1,176.4L113.6,174.2L117.0,171.9L120.5,170.3L125.0,169.0L130.6,168.0L142.3,166.8L149.5,166.5L152.4,166.8L158.5,168.4L161.2,168.7L164.7,168.0L170.0,166.2" fill="none" stroke="#1a1a1a" stroke-opacity="0.45" stroke-width="0.75"/>
<path d="M39.2,164.0l.01,0M39.5,168.0l.01,0M39.8,170.0l.01,0M40.0,171.4L40.6,172.6L41.2,173.0L42.6,173.2L43.7,172.8L44.8,171.5L47.9,165.6L48.7,164.9L49.6,164.6L59.1,165.3L68.0,165.4L76.2,165.3L87.1,164.6L88.8,164.8L90.4,165.9L92.4,169.1L93.5,172.2M93.8,173.4l.01,0M94.1,174.8l.01,0M94.4,176.3l.01,0M94.6,178.1l.01,0M94.9,180.1l.01,0M95.2,182.3l.01,0M95.5,184.8l.01,0M95.8,187.8l.01,0M96.0,191.5l.01,0M96.3,195.6l.01,0M96.6,199.8l.01,0M96.9,203.6l.01,0M97.2,206.7l.01,0M97.4,209.4l.01,0M97.7,211.9l.01,0M98.0,214.2l.01,0M98.3,216.3l.01,0M98.6,218.5l.01,0M98.8,220.9l.01,0M99.1,222.4L99.4,222.2M99.7,220.8l.01,0M100.0,219.0l.01,0M100.2,216.9l.01,0M100.5,214.9l.01,0M100.8,212.7l.01,0M101.1,210.4l.01,0M101.4,208.1l.01,0M101.6,206.0l.01,0M101.9,204.3l.01,0M102.2,203.1L102.8,201.3M103.0,200.2l.01,0M103.3,199.1l.01,0M103.6,197.8l.01,0M103.9,196.5l.01,0M104.2,195.3l.01,0M104.4,194.0l.01,0M104.7,192.7l.01,0M105.0,191.5l.01,0M105.3,190.3l.01,0M105.6,189.1l.01,0M105.8,188.1l.01,0M106.1,186.9l.01,0M106.4,185.8l.01,0M106.7,184.8l.01,0M107.0,183.7L107.8,181.3L108.9,179.1L110.3,177.3L112.6,175.1L114.8,173.3L117.3,171.7L119.8,170.6L122.9,169.6L127.4,168.5L132.4,167.8L141.7,166.9L147.6,166.5L152.3,166.8L158.5,168.4L161.3,168.7L164.6,168.0L170.0,166.2" fill="none" stroke="#1a1a1a" stroke-width="1.2" stroke-linecap="round" stroke-linejoin="round"/>
<path d="M39.2,164.0L39.7,168.0L40.4,170.4L41.2,171.7L42.5,172.2L43.3,172.1L44.2,171.3L45.4,170.0L48.3,165.6L48.9,165.1L49.7,164.7L59.5,165.2L70.0,165.3L86.9,164.6L89.0,164.9L92.0,166.1L93.8,170.0L95.1,175.6L98.9,211.4L100.2,221.2L100.8,223.5L101.3,221.4L103.5,202.8L105.9,192.1L107.8,186.0L109.2,182.6L111.0,179.8L113.6,177.4L116.4,175.4L124.6,171.1L129.1,169.6L134.9,168.1L142.9,167.0L150.0,166.6L152.8,166.8L158.5,168.4L161.2,168.7L164.7,168.0L170.0,166.2" fill="none" stroke="#e46a6a" stroke-opacity="0.45" stroke-width="0.75"/>
<path d="M39.2,164.0l.01,0M39.5,166.5l.01,0M39.8,168.3l.01,0M40.0,169.4L40.6,170.9L41.4,171.9L42.6,172.3L43.4,172.0L45.1,170.4L48.4,165.4L49.0,165.0L49.8,164.7L59.1,165.2L69.7,165.3L76.2,165.2L86.8,164.6L88.8,164.8L91.8,165.9L92.4,166.6L93.0,167.8L94.1,170.9M94.4,171.9l.01,0M94.6,173.1l.01,0M94.9,174.5l.01,0M95.2,176.3l.01,0M95.5,178.4l.01,0M95.8,180.8l.01,0M96.0,183.5l.01,0M96.3,186.3l.01,0M96.6,189.1l.01,0M96.9,191.9l.01,0M97.2,194.5l.01,0M97.4,197.2l.01,0M97.7,200.0l.01,0M98.0,202.8l.01,0M98.3,205.5l.01,0M98.6,208.2l.01,0M98.8,210.7l.01,0M99.1,213.0l.01,0M99.4,215.3l.01,0M99.7,217.7l.01,0M100.0,219.9l.01,0M100.2,221.7l.01,0M100.5,223.0L100.8,223.5L101.1,222.8M101.4,221.0l.01,0M101.6,218.4l.01,0M101.9,215.5l.01,0M102.2,212.8l.01,0M102.5,210.6l.01,0M102.8,208.3l.01,0M103.0,205.9l.01,0M103.3,203.9l.01,0M103.6,202.1l.01,0M103.9,200.6l.01,0M104.2,199.2l.01,0M104.4,197.9l.01,0M104.7,196.7l.01,0M105.0,195.5l.01,0M105.3,194.4l.01,0M105.6,193.3l.01,0M105.8,192.3L107.5,186.7L108.6,183.7L109.8,181.6L111.4,179.4L113.4,177.5L115.6,175.8L125.2,170.8L129.1,169.5L133.8,168.4L138.0,167.6L143.1,166.9L147.8,166.6L151.5,166.6L153.7,167.0L158.5,168.4L160.7,168.7L164.4,168.1L170.0,166.2" fill="none" stroke="#e46a6a" stroke-width="1.2" stroke-linecap="round" stroke-linejoin="round"/>
<path d="M39.2,164.0L39.9,167.1L40.8,169.5L41.6,170.6L42.8,171.1L43.8,170.9L44.7,170.3L48.4,165.8L49.2,165.1L50.2,164.8L59.5,165.2L70.0,165.3L86.9,164.6L89.2,164.9L92.6,165.8L93.3,166.3L94.3,167.9L95.3,170.4L96.8,176.6L102.0,220.7L102.6,223.8L102.9,223.3L103.3,221.2L105.6,201.9L108.0,190.8L109.3,187.0L111.0,183.8L113.6,180.0L116.0,177.5L117.7,176.3L122.0,174.0L125.7,171.7L131.8,169.5L137.5,168.0L144.6,167.0L151.0,166.7L153.7,167.1L158.9,168.5L161.2,168.7L164.7,168.0L170.0,166.2" fill="none" stroke="#5555dc" stroke-opacity="0.45" stroke-width="0.75"/>
<path d="M39.2,164.0l.01,0M39.5,165.4l.01,0M39.8,166.7L40.3,168.4L41.2,170.1L42.0,170.9L43.1,171.1L44.0,170.8L44.8,170.2L48.4,165.8L49.3,165.1L50.1,164.8L59.4,165.2L69.4,165.3L76.2,165.2L85.4,164.6L87.9,164.7L92.4,165.8L93.2,166.2L94.6,168.7L95.8,171.9M96.0,172.9l.01,0M96.3,174.1l.01,0M96.6,175.5l.01,0M96.9,177.2l.01,0M97.2,179.3l.01,0M97.4,181.6l.01,0M97.7,184.1l.01,0M98.0,186.6l.01,0M98.3,189.1l.01,0M98.6,191.5l.01,0M98.8,193.8l.01,0M99.1,196.1l.01,0M99.4,198.4l.01,0M99.7,200.8l.01,0M100.0,203.1l.01,0M100.2,205.4l.01,0M100.5,207.7l.01,0M100.8,210.0l.01,0M101.1,212.4l.01,0M101.4,215.1l.01,0M101.6,217.9l.01,0M101.9,220.4l.01,0M102.2,222.5l.01,0M102.5,223.6L102.8,223.7M103.0,222.6l.01,0M103.3,220.7l.01,0M103.6,218.3l.01,0M103.9,215.6l.01,0M104.2,213.1l.01,0M104.4,211.0l.01,0M104.7,208.8l.01,0M105.0,206.5l.01,0M105.3,204.3l.01,0M105.6,202.4l.01,0M105.8,200.8l.01,0M106.1,199.2l.01,0M106.4,197.7l.01,0M106.7,196.3l.01,0M107.0,194.9l.01,0M107.2,193.6l.01,0M107.5,192.5l.01,0M107.8,191.4L108.9,188.0L110.3,185.0L112.6,181.4L114.5,178.9L115.9,177.6L117.3,176.5L122.1,174.0L124.6,172.2L126.3,171.4L130.8,169.8L135.0,168.6L138.3,167.8L142.8,167.2L147.6,166.7L151.5,166.7L153.7,167.1L158.5,168.4L160.7,168.7L164.4,168.1L170.0,166.2" fill="none" stroke="#5555dc" stroke-width="1.2" stroke-linecap="round" stroke-linejoin="round"/>
<path d="M39.2,164.0L40.1,166.3L41.4,168.3L42.4,169.3L43.7,169.7L44.6,169.5L45.7,168.8L48.3,165.7L50.7,164.8L59.5,165.2L70.7,165.3L86.9,164.6L89.2,164.8L91.8,165.6L93.6,165.7L94.4,166.1L95.4,167.5L96.5,170.0L98.2,176.3L99.0,182.7L100.5,198.2L102.1,210.5L104.0,221.2L104.7,223.8L105.2,224.7L105.5,224.3L105.8,222.5L107.8,202.3L109.9,191.3L111.2,187.0L112.4,184.1L114.0,181.5L116.2,179.2L120.8,175.7L125.4,172.9L131.5,170.2L137.5,168.3L144.6,167.1L151.0,166.8L153.7,167.2L158.9,168.6L161.2,168.8L164.7,168.1L170.0,166.3" fill="none" stroke="#d84ad8" stroke-opacity="0.45" stroke-width="0.75"/>
<path d="M39.2,164.0L40.0,166.2L41.4,168.4L42.6,169.4L43.7,169.7L44.5,169.6L45.6,168.8L47.6,166.4L48.4,165.7L50.7,164.8L59.4,165.2L69.2,165.3L76.2,165.2L85.4,164.6L88.5,164.7L91.8,165.6L93.5,165.7L94.4,166.1L94.9,166.7L95.8,168.2L97.2,171.9M97.4,172.9l.01,0M97.7,174.1l.01,0M98.0,175.4l.01,0M98.3,176.9l.01,0M98.6,178.7l.01,0M98.8,180.9l.01,0M99.1,183.5l.01,0M99.4,186.5l.01,0M99.7,189.6l.01,0M100.0,192.7l.01,0M100.2,195.7l.01,0M100.5,198.3l.01,0M100.8,200.6l.01,0M101.1,202.9l.01,0M101.4,205.1l.01,0M101.6,207.2l.01,0M101.9,209.2l.01,0M102.2,211.1l.01,0M102.5,212.9l.01,0M102.8,214.6l.01,0M103.0,216.2l.01,0M103.3,217.7l.01,0M103.6,219.2l.01,0M103.9,220.5l.01,0M104.2,221.8l.01,0M104.4,222.9L105.0,224.5L105.3,224.7L105.6,224.0M105.8,222.0l.01,0M106.1,218.6l.01,0M106.4,215.0l.01,0M106.7,212.4l.01,0M107.0,209.8l.01,0M107.2,207.2l.01,0M107.5,204.8l.01,0M107.8,202.4l.01,0M108.1,200.7l.01,0M108.4,199.1l.01,0M108.6,197.5l.01,0M108.9,196.0l.01,0M109.2,194.5l.01,0M109.5,193.1l.01,0M109.8,191.8l.01,0M110.0,190.7l.01,0M110.3,189.6L111.4,186.2L112.6,183.7L114.0,181.6L115.9,179.4L119.6,176.5L123.2,174.1L126.6,172.3L131.0,170.4L137.5,168.3L144.8,167.1L149.0,166.8L152.0,166.9L154.0,167.2L158.5,168.5L160.7,168.8L164.4,168.2L170.0,166.3" fill="none" stroke="#d84ad8" stroke-width="1.2" stroke-linecap="round" stroke-linejoin="round"/>
<line x1="38.9" y1="153.2" x2="38.9" y2="251.5" stroke="#999" stroke-width="1"/>
<line x1="38.4" y1="251.5" x2="171.4" y2="251.5" stroke="#444" stroke-width="1"/>
<line x1="36.9" y1="164.20" x2="38.9" y2="164.20" stroke="#333" stroke-width="0.8"/>
<line x1="37.699999999999996" y1="175.07" x2="38.9" y2="175.07" stroke="#555" stroke-width="0.7"/>
<text x="35.9" y="166.10" text-anchor="end" font-size="5.5" letter-spacing="0.02" font-weight="bold" fill="#111" stroke="#111" stroke-width="0.2">0.000</text>
<line x1="36.9" y1="185.95" x2="38.9" y2="185.95" stroke="#333" stroke-width="0.8"/>
<line x1="37.699999999999996" y1="196.82" x2="38.9" y2="196.82" stroke="#555" stroke-width="0.7"/>
<text x="35.9" y="187.85" text-anchor="end" font-size="5.5" letter-spacing="0.02" font-weight="bold" fill="#111" stroke="#111" stroke-width="0.2">-0.002</text>
<line x1="36.9" y1="207.70" x2="38.9" y2="207.70" stroke="#333" stroke-width="0.8"/>
<line x1="37.699999999999996" y1="218.57" x2="38.9" y2="218.57" stroke="#555" stroke-width="0.7"/>
<text x="35.9" y="209.60" text-anchor="end" font-size="5.5" letter-spacing="0.02" font-weight="bold" fill="#111" stroke="#111" stroke-width="0.2">-0.004</text>
<line x1="36.9" y1="229.45" x2="38.9" y2="229.45" stroke="#333" stroke-width="0.8"/>
<line x1="37.699999999999996" y1="240.32" x2="38.9" y2="240.32" stroke="#555" stroke-width="0.7"/>
<text x="35.9" y="231.35" text-anchor="end" font-size="5.5" letter-spacing="0.02" font-weight="bold" fill="#111" stroke="#111" stroke-width="0.2">-0.006</text>
<line x1="36.9" y1="251.20" x2="38.9" y2="251.20" stroke="#333" stroke-width="0.8"/>
<text x="35.9" y="253.10" text-anchor="end" font-size="5.5" letter-spacing="0.02" font-weight="bold" fill="#111" stroke="#111" stroke-width="0.2">-0.008</text>
<line x1="37.699999999999996" y1="153.32" x2="38.9" y2="153.32" stroke="#555" stroke-width="0.7"/>
<line x1="51.72" y1="251.5" x2="51.72" y2="253.5" stroke="#333" stroke-width="0.8"/>
<text x="51.72" y="259.30" text-anchor="middle" font-size="5.3" letter-spacing="0.2" font-weight="bold" fill="#111" stroke="#111" stroke-width="0.2">100</text>
<line x1="68.82" y1="251.5" x2="68.82" y2="253.5" stroke="#333" stroke-width="0.8"/>
<text x="68.82" y="259.30" text-anchor="middle" font-size="5.3" letter-spacing="0.2" font-weight="bold" fill="#111" stroke="#111" stroke-width="0.2">200</text>
<line x1="85.92" y1="251.5" x2="85.92" y2="253.5" stroke="#333" stroke-width="0.8"/>
<text x="85.92" y="259.30" text-anchor="middle" font-size="5.3" letter-spacing="0.2" font-weight="bold" fill="#111" stroke="#111" stroke-width="0.2">300</text>
<line x1="103.01" y1="251.5" x2="103.01" y2="253.5" stroke="#333" stroke-width="0.8"/>
<text x="103.01" y="259.30" text-anchor="middle" font-size="5.3" letter-spacing="0.2" font-weight="bold" fill="#111" stroke="#111" stroke-width="0.2">400</text>
<line x1="120.11" y1="251.5" x2="120.11" y2="253.5" stroke="#333" stroke-width="0.8"/>
<text x="120.11" y="259.30" text-anchor="middle" font-size="5.3" letter-spacing="0.2" font-weight="bold" fill="#111" stroke="#111" stroke-width="0.2">500</text>
<line x1="137.21" y1="251.5" x2="137.21" y2="253.5" stroke="#333" stroke-width="0.8"/>
<text x="137.21" y="259.30" text-anchor="middle" font-size="5.3" letter-spacing="0.2" font-weight="bold" fill="#111" stroke="#111" stroke-width="0.2">600</text>
<line x1="154.30" y1="251.5" x2="154.30" y2="253.5" stroke="#333" stroke-width="0.8"/>
<text x="154.30" y="259.30" text-anchor="middle" font-size="5.3" letter-spacing="0.2" font-weight="bold" fill="#111" stroke="#111" stroke-width="0.2">700</text>
<line x1="171.40" y1="251.5" x2="171.40" y2="253.5" stroke="#333" stroke-width="0.8"/>
<text x="171.40" y="259.30" text-anchor="middle" font-size="5.3" letter-spacing="0.2" font-weight="bold" fill="#111" stroke="#111" stroke-width="0.2">800</text>
<line x1="43.17" y1="251.5" x2="43.17" y2="252.7" stroke="#555" stroke-width="0.7"/>
<line x1="60.27" y1="251.5" x2="60.27" y2="252.7" stroke="#555" stroke-width="0.7"/>
<line x1="77.37" y1="251.5" x2="77.37" y2="252.7" stroke="#555" stroke-width="0.7"/>
<line x1="94.46" y1="251.5" x2="94.46" y2="252.7" stroke="#555" stroke-width="0.7"/>
<line x1="111.56" y1="251.5" x2="111.56" y2="252.7" stroke="#555" stroke-width="0.7"/>
<line x1="128.66" y1="251.5" x2="128.66" y2="252.7" stroke="#555" stroke-width="0.7"/>
<line x1="145.75" y1="251.5" x2="145.75" y2="252.7" stroke="#555" stroke-width="0.7"/>
<line x1="162.85" y1="251.5" x2="162.85" y2="252.7" stroke="#555" stroke-width="0.7"/>
<text x="105" y="274.3" text-anchor="middle" font-size="8" font-weight="bold" fill="#111" stroke="#111" stroke-width="0.15">Temperature (<tspan dy="-2.6" font-size="5.4">O</tspan><tspan dy="2.6">C)</tspan></text>
<text transform="translate(13.1,207.85) rotate(-90)" text-anchor="middle" font-size="7.55" font-weight="bold" fill="#111" stroke="#111" stroke-width="0.15">DTG (%/<tspan dy="-2.4" font-size="5.6">O</tspan><tspan dy="2.4">C)</tspan></text>
<text x="90.8" y="289.3" text-anchor="middle" font-family='"Liberation Serif", serif' font-size="7.8" letter-spacing="0.6" fill="#111" stroke="#111" stroke-width="0.25">(c)</text>
<line x1="47.099999999999994" y1="219.40" x2="48.5" y2="219.40" stroke="#8a8a8a" stroke-width="0.9"/>
<text x="54.5" y="220.80" textLength="34.7" lengthAdjust="spacingAndGlyphs" font-size="4.7" font-weight="bold" fill="#111" stroke="#111" stroke-width="0.1">POMA 10<tspan dy="-1.9" font-size="3.2">o</tspan><tspan dy="1.9">C/min</tspan></text>
<line x1="47.099999999999994" y1="226.13" x2="48.5" y2="226.13" stroke="#8a8a8a" stroke-width="0.9"/>
<text x="54.5" y="227.53" textLength="34.7" lengthAdjust="spacingAndGlyphs" font-size="4.7" font-weight="bold" fill="#111" stroke="#111" stroke-width="0.1">POMA 20<tspan dy="-1.9" font-size="3.2">o</tspan><tspan dy="1.9">C/min</tspan></text>
<line x1="47.099999999999994" y1="232.86" x2="48.5" y2="232.86" stroke="#8a8a8a" stroke-width="0.9"/>
<text x="54.5" y="234.26" textLength="34.7" lengthAdjust="spacingAndGlyphs" font-size="4.7" font-weight="bold" fill="#111" stroke="#111" stroke-width="0.1">POMA 30<tspan dy="-1.9" font-size="3.2">o</tspan><tspan dy="1.9">C/min</tspan></text>
<line x1="47.099999999999994" y1="239.59" x2="48.5" y2="239.59" stroke="#8a8a8a" stroke-width="0.9"/>
<text x="54.5" y="240.99" textLength="34.7" lengthAdjust="spacingAndGlyphs" font-size="4.7" font-weight="bold" fill="#111" stroke="#111" stroke-width="0.1">POMA 40<tspan dy="-1.9" font-size="3.2">o</tspan><tspan dy="1.9">C/min</tspan></text>
<line x1="233.5" y1="153.4" x2="366.3" y2="153.4" stroke="#c8c8c8" stroke-width="0.9"/>
<line x1="366.3" y1="153.4" x2="366.3" y2="251.5" stroke="#c8c8c8" stroke-width="0.9"/>
<path d="M270.0,156.9L273.4,156.8L274.3,157.1L275.1,157.7L278.6,163.8L283.3,173.2L286.2,177.6L289.1,180.6L291.6,182.5L293.4,183.1L297.6,183.9L299.8,185.1L301.7,187.4L305.7,193.3L310.2,197.7L313.3,202.9L314.1,203.6L314.8,203.8L316.3,203.1L318.3,200.6L330.3,180.9L334.6,173.0L343.9,154.5L345.1,153.7L347.0,154.2" fill="none" stroke="#6e6e6e" stroke-opacity="0.45" stroke-width="0.75"/>
<path d="M270.0,156.9L273.4,156.8L274.2,157.0L275.0,157.7L275.9,158.8L278.7,163.9L283.4,173.5L284.8,175.9L286.2,177.7L289.3,180.8L291.8,182.6L293.2,183.1L297.7,184.0L298.8,184.5L300.0,185.3L301.6,187.3L305.6,193.1L310.3,197.9L313.1,202.7L314.0,203.5L314.8,203.8L315.4,203.7L316.2,203.2L318.2,200.8L329.9,181.5L334.4,173.5L343.9,154.4L345.0,153.7L347.0,154.2" fill="none" stroke="#6e6e6e" stroke-width="1.0" stroke-linecap="round" stroke-linejoin="round"/>
<path d="M233.80,156.50 L233.92,157.13 L234.08,158.04 L234.28,159.09 L234.50,160.19 L234.74,161.19 L235.00,162.00 L235.28,162.65 L235.59,163.24 L235.92,163.75 L236.27,164.15 L236.63,164.41 L237.00,164.50 L237.38,164.39 L237.79,164.10 L238.20,163.67 L238.63,163.14 L239.06,162.57 L239.50,162.00 L239.95,161.38 L240.40,160.67 L240.87,159.92 L241.34,159.16 L241.82,158.44 L242.30,157.80 L242.79,157.23 L243.28,156.68 L243.78,156.18 L244.29,155.72 L244.79,155.32 L245.30,155.00 L245.70,154.75 L245.99,154.56 L246.27,154.43 L246.68,154.36 L247.35,154.35 L248.40,154.40 L249.90,154.54 L251.76,154.79 L253.88,155.09 L256.15,155.41 L258.46,155.73 L260.70,156.00 L263.04,156.20 L265.59,156.37 L268.18,156.52 L270.64,156.70 L272.81,156.91 L274.50,157.20 L275.61,157.53 L276.25,157.88 L276.59,158.27 L276.80,158.73 L277.04,159.30 L277.50,160.00 L278.12,160.86 L278.77,161.88 L279.46,162.99 L280.20,164.17 L281.01,165.35 L281.90,166.50 L282.88,167.64 L283.93,168.83 L285.05,170.02 L286.24,171.20 L287.49,172.33 L288.80,173.40 L290.22,174.38 L291.75,175.29 L293.35,176.15 L294.96,177.00 L296.53,177.88 L298.00,178.80 L299.41,179.77 L300.80,180.77 L302.16,181.78 L303.44,182.81 L304.63,183.85 L305.70,184.90 L306.61,185.96 L307.38,187.05 L308.05,188.15 L308.68,189.25 L309.31,190.34 L310.00,191.40 L310.75,192.47 L311.51,193.54 L312.27,194.61 L313.04,195.64 L313.78,196.62 L314.50,197.50 L315.13,198.46 L315.67,199.53 L316.20,200.55 L316.78,201.32 L317.49,201.67 L318.40,201.40 L319.54,200.38 L320.87,198.74 L322.32,196.66 L323.84,194.36 L325.39,192.04 L326.90,189.90 L328.39,187.93 L329.91,185.97 L331.46,183.99 L333.01,181.95 L334.56,179.83 L336.10,177.60 L337.72,175.08 L339.45,172.27 L341.18,169.38 L342.80,166.61 L344.21,164.18 L345.30,162.30 L346.00,161.08 L346.38,160.39 L346.55,160.03 L346.61,159.83 L346.66,159.61 L346.80,159.20 L347.01,158.59 L347.19,157.91 L347.37,157.22 L347.55,156.56 L347.76,155.97 L348.00,155.50 L348.14,155.15 L348.13,154.90 L348.14,154.73 L348.34,154.60 L348.91,154.50 L350.00,154.40 L351.92,154.32 L354.59,154.29 L357.62,154.28 L360.63,154.29 L363.22,154.30 L365.00,154.30" fill="none" stroke="#e46a6a" stroke-width="1.0" stroke-dasharray="1.2 1.2"/>
<path d="M233.80,156.50 L233.92,157.13 L234.08,158.04 L234.28,159.09 L234.50,160.19 L234.74,161.19 L235.00,162.00 L235.28,162.65 L235.59,163.24 L235.92,163.75 L236.27,164.15 L236.63,164.41 L237.00,164.50 L237.38,164.39 L237.79,164.10 L238.20,163.67 L238.63,163.14 L239.06,162.57 L239.50,162.00 L239.95,161.38 L240.40,160.67 L240.87,159.92 L241.34,159.16 L241.82,158.44 L242.30,157.80 L242.79,157.23 L243.28,156.68 L243.78,156.18 L244.29,155.72 L244.79,155.32 L245.30,155.00 L245.70,154.75 L245.99,154.56 L246.27,154.43 L246.68,154.36 L247.35,154.35 L248.40,154.40 L249.90,154.54 L251.76,154.79 L253.88,155.09 L256.15,155.41 L258.46,155.73 L260.70,156.00 L263.03,156.22 L265.57,156.41 L268.15,156.59 L270.61,156.77 L272.78,156.97 L274.50,157.20 L275.67,157.42 L276.41,157.60 L276.87,157.80 L277.19,158.07 L277.51,158.45 L278.00,159.00 L278.57,159.75 L279.10,160.66 L279.64,161.68 L280.25,162.78 L280.98,163.90 L281.90,165.00 L283.03,166.12 L284.34,167.32 L285.77,168.54 L287.27,169.74 L288.80,170.87 L290.30,171.90 L291.77,172.74 L293.26,173.42 L294.77,174.04 L296.31,174.69 L297.88,175.48 L299.50,176.50 L301.23,177.83 L303.07,179.40 L304.95,181.10 L306.79,182.84 L308.50,184.50 L310.00,186.00 L311.28,187.32 L312.38,188.55 L313.36,189.71 L314.26,190.83 L315.13,191.91 L316.00,193.00 L316.86,194.18 L317.68,195.46 L318.46,196.71 L319.21,197.82 L319.95,198.66 L320.70,199.10 L321.41,199.08 L322.08,198.69 L322.74,198.03 L323.42,197.21 L324.16,196.33 L325.00,195.50 L325.92,194.74 L326.90,193.97 L327.94,193.15 L329.05,192.23 L330.23,191.16 L331.50,189.90 L332.90,188.42 L334.43,186.74 L336.03,184.91 L337.65,183.00 L339.23,181.04 L340.70,179.10 L342.10,177.10 L343.49,174.97 L344.83,172.81 L346.10,170.69 L347.27,168.69 L348.30,166.90 L349.18,165.32 L349.93,163.89 L350.58,162.57 L351.16,161.37 L351.69,160.25 L352.20,159.20 L352.58,158.20 L352.78,157.28 L352.94,156.44 L353.19,155.70 L353.66,155.08 L354.50,154.60 L355.90,154.30 L357.78,154.17 L359.89,154.16 L361.97,154.22 L363.76,154.28 L365.00,154.30" fill="none" stroke="#5555dc" stroke-width="1.0" stroke-dasharray="1.2 1.3"/>
<path d="M233.80,156.50 L233.92,157.13 L234.08,158.04 L234.28,159.09 L234.50,160.19 L234.74,161.19 L235.00,162.00 L235.28,162.65 L235.59,163.24 L235.92,163.75 L236.27,164.15 L236.63,164.41 L237.00,164.50 L237.38,164.39 L237.79,164.10 L238.20,163.67 L238.63,163.14 L239.06,162.57 L239.50,162.00 L239.95,161.38 L240.40,160.67 L240.87,159.92 L241.34,159.16 L241.82,158.44 L242.30,157.80 L242.79,157.23 L243.28,156.68 L243.78,156.18 L244.29,155.72 L244.79,155.32 L245.30,155.00 L245.70,154.75 L245.99,154.56 L246.27,154.43 L246.68,154.36 L247.35,154.35 L248.40,154.40 L249.90,154.54 L251.76,154.79 L253.88,155.09 L256.15,155.41 L258.46,155.73 L260.70,156.00 L263.03,156.22 L265.55,156.41 L268.12,156.59 L270.57,156.77 L272.75,156.97 L274.50,157.20 L275.73,157.43 L276.55,157.63 L277.10,157.85 L277.51,158.13 L277.94,158.50 L278.50,159.00 L279.15,159.67 L279.76,160.47 L280.38,161.38 L281.04,162.33 L281.80,163.28 L282.70,164.20 L283.73,165.10 L284.87,166.01 L286.09,166.94 L287.41,167.85 L288.81,168.74 L290.30,169.60 L291.92,170.39 L293.70,171.12 L295.56,171.83 L297.44,172.56 L299.28,173.33 L301.00,174.20 L302.63,175.16 L304.24,176.20 L305.79,177.28 L307.29,178.40 L308.69,179.55 L310.00,180.70 L311.17,181.86 L312.21,183.05 L313.17,184.26 L314.09,185.49 L315.02,186.73 L316.00,188.00 L317.05,189.42 L318.14,191.02 L319.23,192.64 L320.31,194.12 L321.34,195.30 L322.30,196.00 L323.16,196.14 L323.94,195.82 L324.67,195.19 L325.40,194.41 L326.16,193.63 L327.00,193.00 L327.87,192.56 L328.73,192.20 L329.62,191.84 L330.60,191.39 L331.71,190.77 L333.00,189.90 L334.56,188.70 L336.39,187.23 L338.34,185.59 L340.29,183.88 L342.12,182.22 L343.70,180.70 L345.03,179.33 L346.22,178.02 L347.28,176.76 L348.24,175.51 L349.10,174.27 L349.90,173.00 L350.58,171.73 L351.13,170.49 L351.59,169.24 L352.01,167.98 L352.43,166.67 L352.90,165.30 L353.41,163.77 L353.93,162.07 L354.44,160.33 L354.96,158.67 L355.48,157.22 L356.00,156.10 L356.48,155.35 L356.93,154.89 L357.38,154.63 L357.86,154.50 L358.42,154.42 L359.10,154.30 L359.99,154.18 L361.08,154.14 L362.24,154.14 L363.37,154.16 L364.33,154.19 L365.00,154.20" fill="none" stroke="#d84ad8" stroke-width="1.0" stroke-dasharray="1.2 1.3"/>
<path d="M233.80,156.50 L233.92,157.13 L234.08,158.04 L234.28,159.09 L234.50,160.19 L234.74,161.19 L235.00,162.00 L235.28,162.65 L235.59,163.24 L235.92,163.75 L236.27,164.15 L236.63,164.41 L237.00,164.50 L237.38,164.39 L237.79,164.10 L238.20,163.67 L238.63,163.14 L239.06,162.57 L239.50,162.00 L239.95,161.38 L240.40,160.67 L240.87,159.92 L241.34,159.16 L241.82,158.44 L242.30,157.80 L242.79,157.23 L243.28,156.68 L243.78,156.18 L244.29,155.72 L244.79,155.32 L245.30,155.00 L245.70,154.75 L245.99,154.56 L246.27,154.43 L246.68,154.36 L247.35,154.35 L248.40,154.40 L249.90,154.54 L251.76,154.79 L253.88,155.09 L256.15,155.41 L258.46,155.73 L260.70,156.00 L263.07,156.24 L265.70,156.47 L268.37,156.70 L270.87,156.90 L272.98,157.07 L274.50,157.20" fill="none" stroke="#d84ad8" stroke-width="1.0" stroke-dasharray="1.1 0.5"/>
<line x1="233.5" y1="153.4" x2="233.5" y2="251.5" stroke="#777" stroke-width="1"/>
<line x1="233.0" y1="251.5" x2="366.3" y2="251.5" stroke="#444" stroke-width="1"/>
<line x1="231.5" y1="154.00" x2="233.5" y2="154.00" stroke="#333" stroke-width="0.8"/>
<line x1="232.3" y1="166.25" x2="233.5" y2="166.25" stroke="#555" stroke-width="0.7"/>
<text x="230.5" y="155.90" text-anchor="end" font-size="5.5" letter-spacing="0.02" font-weight="bold" fill="#111" stroke="#111" stroke-width="0.2">0.000</text>
<line x1="231.5" y1="178.50" x2="233.5" y2="178.50" stroke="#333" stroke-width="0.8"/>
<line x1="232.3" y1="190.75" x2="233.5" y2="190.75" stroke="#555" stroke-width="0.7"/>
<text x="230.5" y="180.40" text-anchor="end" font-size="5.5" letter-spacing="0.02" font-weight="bold" fill="#111" stroke="#111" stroke-width="0.2">-0.002</text>
<line x1="231.5" y1="203.00" x2="233.5" y2="203.00" stroke="#333" stroke-width="0.8"/>
<line x1="232.3" y1="215.25" x2="233.5" y2="215.25" stroke="#555" stroke-width="0.7"/>
<text x="230.5" y="204.90" text-anchor="end" font-size="5.5" letter-spacing="0.02" font-weight="bold" fill="#111" stroke="#111" stroke-width="0.2">-0.004</text>
<line x1="231.5" y1="227.50" x2="233.5" y2="227.50" stroke="#333" stroke-width="0.8"/>
<line x1="232.3" y1="239.75" x2="233.5" y2="239.75" stroke="#555" stroke-width="0.7"/>
<text x="230.5" y="229.40" text-anchor="end" font-size="5.5" letter-spacing="0.02" font-weight="bold" fill="#111" stroke="#111" stroke-width="0.2">-0.006</text>
<line x1="231.5" y1="252.00" x2="233.5" y2="252.00" stroke="#333" stroke-width="0.8"/>
<text x="230.5" y="253.90" text-anchor="end" font-size="5.5" letter-spacing="0.02" font-weight="bold" fill="#111" stroke="#111" stroke-width="0.2">-0.008</text>
<line x1="246.35" y1="251.5" x2="246.35" y2="253.5" stroke="#333" stroke-width="0.8"/>
<text x="246.35" y="259.30" text-anchor="middle" font-size="5.3" letter-spacing="0.2" font-weight="bold" fill="#111" stroke="#111" stroke-width="0.2">100</text>
<line x1="263.49" y1="251.5" x2="263.49" y2="253.5" stroke="#333" stroke-width="0.8"/>
<text x="263.49" y="259.30" text-anchor="middle" font-size="5.3" letter-spacing="0.2" font-weight="bold" fill="#111" stroke="#111" stroke-width="0.2">200</text>
<line x1="280.62" y1="251.5" x2="280.62" y2="253.5" stroke="#333" stroke-width="0.8"/>
<text x="280.62" y="259.30" text-anchor="middle" font-size="5.3" letter-spacing="0.2" font-weight="bold" fill="#111" stroke="#111" stroke-width="0.2">300</text>
<line x1="297.76" y1="251.5" x2="297.76" y2="253.5" stroke="#333" stroke-width="0.8"/>
<text x="297.76" y="259.30" text-anchor="middle" font-size="5.3" letter-spacing="0.2" font-weight="bold" fill="#111" stroke="#111" stroke-width="0.2">400</text>
<line x1="314.89" y1="251.5" x2="314.89" y2="253.5" stroke="#333" stroke-width="0.8"/>
<text x="314.89" y="259.30" text-anchor="middle" font-size="5.3" letter-spacing="0.2" font-weight="bold" fill="#111" stroke="#111" stroke-width="0.2">500</text>
<line x1="332.03" y1="251.5" x2="332.03" y2="253.5" stroke="#333" stroke-width="0.8"/>
<text x="332.03" y="259.30" text-anchor="middle" font-size="5.3" letter-spacing="0.2" font-weight="bold" fill="#111" stroke="#111" stroke-width="0.2">600</text>
<line x1="349.16" y1="251.5" x2="349.16" y2="253.5" stroke="#333" stroke-width="0.8"/>
<text x="349.16" y="259.30" text-anchor="middle" font-size="5.3" letter-spacing="0.2" font-weight="bold" fill="#111" stroke="#111" stroke-width="0.2">700</text>
<line x1="366.30" y1="251.5" x2="366.30" y2="253.5" stroke="#333" stroke-width="0.8"/>
<text x="366.30" y="259.30" text-anchor="middle" font-size="5.3" letter-spacing="0.2" font-weight="bold" fill="#111" stroke="#111" stroke-width="0.2">800</text>
<line x1="237.78" y1="251.5" x2="237.78" y2="252.7" stroke="#555" stroke-width="0.7"/>
<line x1="254.92" y1="251.5" x2="254.92" y2="252.7" stroke="#555" stroke-width="0.7"/>
<line x1="272.05" y1="251.5" x2="272.05" y2="252.7" stroke="#555" stroke-width="0.7"/>
<line x1="289.19" y1="251.5" x2="289.19" y2="252.7" stroke="#555" stroke-width="0.7"/>
<line x1="306.33" y1="251.5" x2="306.33" y2="252.7" stroke="#555" stroke-width="0.7"/>
<line x1="323.46" y1="251.5" x2="323.46" y2="252.7" stroke="#555" stroke-width="0.7"/>
<line x1="340.60" y1="251.5" x2="340.60" y2="252.7" stroke="#555" stroke-width="0.7"/>
<line x1="357.73" y1="251.5" x2="357.73" y2="252.7" stroke="#555" stroke-width="0.7"/>
<text x="300" y="274.5" text-anchor="middle" font-size="8" font-weight="bold" fill="#111" stroke="#111" stroke-width="0.15">Temperature (<tspan dy="-2.6" font-size="5.4">O</tspan><tspan dy="2.6">C)</tspan></text>
<text transform="translate(208.7,207.15) rotate(-90)" text-anchor="middle" font-size="7.45" font-weight="bold" fill="#111" stroke="#111" stroke-width="0.15">DTG (%/<tspan dy="-2.4" font-size="5.6">O</tspan><tspan dy="2.4">C)</tspan></text>
<text x="285.3" y="286.6" text-anchor="middle" font-family='"Liberation Serif", serif' font-size="7.8" letter-spacing="0.6" fill="#111" stroke="#111" stroke-width="0.25">(d)</text>
<line x1="245.60000000000002" y1="215.20" x2="247.0" y2="215.20" stroke="#8a8a8a" stroke-width="0.9"/>
<text x="253" y="216.60" textLength="34.9" lengthAdjust="spacingAndGlyphs" font-size="4.7" font-weight="bold" fill="#111" stroke="#111" stroke-width="0.1">POMA 10<tspan dy="-1.9" font-size="3.2">o</tspan><tspan dy="1.9">C/min</tspan></text>
<line x1="245.60000000000002" y1="221.83" x2="247.0" y2="221.83" stroke="#8a8a8a" stroke-width="0.9"/>
<text x="253" y="223.23" textLength="34.9" lengthAdjust="spacingAndGlyphs" font-size="4.7" font-weight="bold" fill="#111" stroke="#111" stroke-width="0.1">POMA 20<tspan dy="-1.9" font-size="3.2">o</tspan><tspan dy="1.9">C/min</tspan></text>
<line x1="245.60000000000002" y1="228.46" x2="247.0" y2="228.46" stroke="#8a8a8a" stroke-width="0.9"/>
<text x="253" y="229.86" textLength="34.9" lengthAdjust="spacingAndGlyphs" font-size="4.7" font-weight="bold" fill="#111" stroke="#111" stroke-width="0.1">POMA 30<tspan dy="-1.9" font-size="3.2">o</tspan><tspan dy="1.9">C/min</tspan></text>
<line x1="245.60000000000002" y1="235.09" x2="247.0" y2="235.09" stroke="#8a8a8a" stroke-width="0.9"/>
<text x="253" y="236.49" textLength="34.9" lengthAdjust="spacingAndGlyphs" font-size="4.7" font-weight="bold" fill="#111" stroke="#111" stroke-width="0.1">POMA 40<tspan dy="-1.9" font-size="3.2">o</tspan><tspan dy="1.9">C/min</tspan></text>
<line x1="39.5" y1="301.5" x2="171.4" y2="301.5" stroke="#c8c8c8" stroke-width="0.9"/>
<line x1="171.4" y1="301.5" x2="171.4" y2="399.5" stroke="#c8c8c8" stroke-width="0.9"/>
<path d="M39.5,304.4L41.1,303.4L43.3,302.9L54.5,303.1L65.0,304.1L70.3,305.0L74.9,306.2L75.7,305.9L76.5,304.5L77.4,304.0L80.5,303.5L84.0,303.3L86.7,303.8L88.2,305.4L90.2,309.0L91.6,313.4L93.5,323.9L95.0,333.9L96.5,348.7L98.5,383.1L98.9,386.2L99.2,383.4L100.8,359.5L102.0,344.6L103.7,332.4L104.7,328.4L105.6,325.7L107.5,322.6L113.7,315.5L116.4,312.8L119.9,310.0L123.0,308.0L126.1,306.7L132.1,305.0L134.3,305.0" fill="none" stroke="#1a1a1a" stroke-opacity="0.45" stroke-width="0.75"/>
<path d="M39.5,304.4L41.2,303.4L43.1,302.9L47.6,302.9L54.6,303.1L60.2,303.5L65.0,304.1L70.3,305.0L74.8,306.2L75.6,306.0L76.5,304.6L77.6,304.0L82.1,303.4L85.7,303.5L87.1,304.0L88.5,305.8L90.2,309.0L91.3,312.1M91.6,313.1l.01,0M91.9,314.4l.01,0M92.1,315.9l.01,0M92.4,317.5l.01,0M92.7,319.1l.01,0M93.0,320.8l.01,0M93.3,322.4l.01,0M93.5,324.1l.01,0M93.8,325.8l.01,0M94.1,327.7l.01,0M94.4,329.6l.01,0M94.7,331.6l.01,0M94.9,333.7l.01,0M95.2,335.9l.01,0M95.5,338.1l.01,0M95.8,340.6l.01,0M96.1,343.5l.01,0M96.3,346.7l.01,0M96.6,350.4l.01,0M96.9,354.4l.01,0M97.2,358.8l.01,0M97.5,363.3l.01,0M97.7,368.5l.01,0M98.0,374.8l.01,0M98.3,379.6l.01,0M98.6,384.2l.01,0M98.9,386.2l.01,0M99.1,384.6l.01,0M99.4,380.8l.01,0M99.7,376.1l.01,0M100.0,371.2l.01,0M100.3,366.6l.01,0M100.5,362.6l.01,0M100.8,358.7l.01,0M101.1,354.9l.01,0M101.4,351.4l.01,0M101.7,348.2l.01,0M101.9,345.4l.01,0M102.2,343.0l.01,0M102.5,340.7l.01,0M102.8,338.7l.01,0M103.1,336.7l.01,0M103.3,334.8l.01,0M103.6,333.1l.01,0M103.9,331.6l.01,0M104.2,330.4l.01,0M104.5,329.2l.01,0M104.7,328.2L105.9,325.2L107.5,322.5L114.5,314.6L118.7,310.9L122.4,308.4L125.5,306.9L131.9,305.1L133.0,304.9L134.3,305.0" fill="none" stroke="#1a1a1a" stroke-width="1.25" stroke-linecap="round" stroke-linejoin="round"/>
<path d="M39.5,304.4L41.1,303.4L42.9,303.0L53.1,303.1L63.1,303.8L70.0,305.0L74.8,306.0L75.6,305.8L76.5,304.5L77.4,304.0L81.1,303.5L84.8,303.4L86.5,303.6L87.9,304.2L89.5,305.4L91.0,307.1L92.7,310.0L93.9,313.5L95.9,322.4L97.3,331.6L98.3,341.2L99.3,355.0L100.5,383.1L101.7,365.7L102.8,356.6L105.8,339.6L106.8,332.5L107.6,329.4L108.6,326.7L110.5,323.2L113.0,319.9L116.7,316.1L121.1,312.3L124.3,309.9L126.8,308.5L133.2,305.9L135.0,305.6" fill="none" stroke="#e88a8a" stroke-opacity="0.45" stroke-width="0.75"/>
<path d="M39.5,304.4L41.2,303.4L43.1,302.9L46.8,302.9L53.2,303.1L59.1,303.4L63.3,303.9L70.0,305.0L74.8,306.0L75.6,305.8L76.5,304.5L77.6,304.0L82.3,303.4L86.0,303.5L87.1,303.8L88.2,304.4L89.6,305.6L90.7,306.8L92.7,309.9L93.8,313.2M94.1,314.3l.01,0M94.4,315.5l.01,0M94.7,316.7l.01,0M94.9,317.9l.01,0M95.2,319.2l.01,0M95.5,320.5l.01,0M95.8,321.9l.01,0M96.1,323.4l.01,0M96.3,325.0l.01,0M96.6,326.8l.01,0M96.9,328.6l.01,0M97.2,330.7l.01,0M97.5,332.9l.01,0M97.7,335.4l.01,0M98.0,338.2l.01,0M98.3,341.3l.01,0M98.6,344.8l.01,0M98.9,348.5l.01,0M99.1,352.5l.01,0M99.4,357.0l.01,0M99.7,362.8l.01,0M100.0,369.5l.01,0M100.3,380.4l.01,0M100.5,382.8l.01,0M100.8,379.7l.01,0M101.1,375.2l.01,0M101.4,370.6l.01,0M101.7,366.6l.01,0M101.9,363.6l.01,0M102.2,361.1l.01,0M102.5,358.8l.01,0M102.8,356.8l.01,0M103.1,354.9l.01,0M103.3,353.0l.01,0M103.6,351.3l.01,0M103.9,349.6l.01,0M104.2,348.1l.01,0M104.5,346.6l.01,0M104.7,345.1l.01,0M105.0,343.7l.01,0M105.3,342.2l.01,0M105.6,340.7l.01,0M105.9,339.0l.01,0M106.1,337.0l.01,0M106.4,334.9l.01,0M106.7,333.0l.01,0M107.0,331.6l.01,0M107.3,330.5L108.7,326.5L110.9,322.6L114.0,318.9L118.5,314.5L122.4,311.2L125.7,309.0L128.5,307.7L133.0,306.0L135.0,305.6" fill="none" stroke="#e88a8a" stroke-width="1.25" stroke-linecap="round" stroke-linejoin="round"/>
<path d="M39.5,304.4L41.1,303.4L42.9,303.0L53.1,303.1L63.1,303.8L70.0,305.0L74.8,306.0L75.6,305.8L76.5,304.5L77.6,303.9L81.9,303.5L86.4,303.4L88.0,303.6L89.2,304.1L90.4,305.0L91.9,306.5L93.7,309.2L94.9,312.2L97.7,322.2L99.1,329.7L100.5,339.8L101.7,351.8L103.4,380.7L104.9,363.7L107.2,342.4L108.6,333.1L110.1,328.0L111.6,325.1L113.8,322.0L116.7,318.8L120.7,314.9L126.9,309.8L129.9,308.1L134.3,306.0" fill="none" stroke="#8a80e6" stroke-opacity="0.45" stroke-width="0.75"/>
<path d="M39.5,304.4L41.2,303.4L43.1,302.9L46.8,302.9L53.2,303.1L59.1,303.4L63.3,303.9L70.0,305.0L74.8,306.0L75.6,305.8L76.7,304.3L77.9,303.9L83.2,303.4L87.9,303.6L89.3,304.2L90.7,305.3L92.1,306.8L93.5,308.9L94.7,311.5L96.9,319.2M97.2,320.2l.01,0M97.5,321.3l.01,0M97.7,322.4l.01,0M98.0,323.7l.01,0M98.3,325.0l.01,0M98.6,326.5l.01,0M98.9,328.1l.01,0M99.1,329.8l.01,0M99.4,331.7l.01,0M99.7,333.7l.01,0M100.0,335.8l.01,0M100.3,338.1l.01,0M100.5,340.5l.01,0M100.8,343.1l.01,0M101.1,345.8l.01,0M101.4,348.7l.01,0M101.7,351.8l.01,0M101.9,355.3l.01,0M102.2,359.2l.01,0M102.5,363.4l.01,0M102.8,368.7l.01,0M103.1,376.1l.01,0M103.3,380.5L103.6,379.8M103.9,376.4l.01,0M104.2,372.1l.01,0M104.5,368.4l.01,0M104.7,365.5l.01,0M105.0,362.6l.01,0M105.3,359.8l.01,0M105.6,357.0l.01,0M105.9,354.3l.01,0M106.1,351.7l.01,0M106.4,349.1l.01,0M106.7,346.5l.01,0M107.0,344.0l.01,0M107.3,341.8l.01,0M107.5,339.7l.01,0M107.8,337.8l.01,0M108.1,335.9l.01,0M108.4,334.2l.01,0M108.7,332.8l.01,0M108.9,331.6L110.1,328.2L111.7,324.9L114.0,321.8L117.3,318.1L122.1,313.6L126.3,310.2L129.4,308.4L134.3,306.0" fill="none" stroke="#8a80e6" stroke-width="1.25" stroke-linecap="round" stroke-linejoin="round"/>
<path d="M39.5,304.4L41.1,303.4L42.9,303.0L51.7,303.0L62.1,303.7L74.8,305.8L75.6,305.6L76.5,304.4L77.6,304.0L88.5,303.1L90.3,303.6L92.1,305.1L94.2,307.9L95.7,310.9L99.2,321.3L100.5,326.8L102.5,340.0L106.0,375.1L106.3,372.3L107.3,358.5L109.2,340.0L111.1,331.4L112.3,328.2L113.7,325.5L117.7,320.4L123.4,314.6L127.6,311.0L132.3,307.9L135.8,306.3L139.0,305.4L143.1,304.8L150.9,304.4" fill="none" stroke="#d466dc" stroke-opacity="0.45" stroke-width="0.75"/>
<path d="M39.5,304.4L41.2,303.4L42.9,303.0L46.2,302.9L51.8,303.0L61.9,303.7L74.8,305.8L75.6,305.6L76.7,304.3L77.9,303.9L87.9,303.1L89.6,303.3L90.7,303.9L92.1,305.1L93.5,306.9L94.9,309.1L96.1,311.8L99.4,322.2M99.7,323.2l.01,0M100.0,324.3l.01,0M100.3,325.5l.01,0M100.5,326.9l.01,0M100.8,328.3l.01,0M101.1,330.0l.01,0M101.4,331.8l.01,0M101.7,333.7l.01,0M101.9,335.8l.01,0M102.2,338.0l.01,0M102.5,340.5l.01,0M102.8,343.1l.01,0M103.1,345.7l.01,0M103.3,348.5l.01,0M103.6,351.2l.01,0M103.9,353.9l.01,0M104.2,356.7l.01,0M104.5,359.5l.01,0M104.7,362.4l.01,0M105.0,365.2l.01,0M105.3,368.7l.01,0M105.6,372.7l.01,0M105.9,374.9L106.1,374.3M106.4,371.3l.01,0M106.7,367.2l.01,0M107.0,362.9l.01,0M107.3,359.3l.01,0M107.5,356.4l.01,0M107.8,353.7l.01,0M108.1,351.0l.01,0M108.4,348.0l.01,0M108.7,344.6l.01,0M108.9,341.9l.01,0M109.2,339.9l.01,0M109.5,338.2l.01,0M109.8,336.7l.01,0M110.1,335.4l.01,0M110.3,334.1l.01,0M110.6,333.0l.01,0M110.9,332.0L111.7,329.5L112.9,327.0L114.3,324.7L116.2,322.1L119.0,318.9L122.9,315.0L126.0,312.2L128.5,310.3L133.6,307.3L135.8,306.3L138.1,305.6L142.5,304.9L150.9,304.4" fill="none" stroke="#d466dc" stroke-width="1.25" stroke-linecap="round" stroke-linejoin="round"/>
<line x1="39.5" y1="301.5" x2="39.5" y2="399.5" stroke="#666" stroke-width="1"/>
<line x1="39.0" y1="399.5" x2="171.4" y2="399.5" stroke="#444" stroke-width="1"/>
<line x1="37.5" y1="302.20" x2="39.5" y2="302.20" stroke="#333" stroke-width="0.8"/>
<line x1="38.3" y1="311.98" x2="39.5" y2="311.98" stroke="#555" stroke-width="0.7"/>
<text x="36.5" y="304.10" text-anchor="end" font-size="5.5" letter-spacing="0.02" font-weight="bold" fill="#111" stroke="#111" stroke-width="0.2">0.000</text>
<line x1="37.5" y1="321.76" x2="39.5" y2="321.76" stroke="#333" stroke-width="0.8"/>
<line x1="38.3" y1="331.54" x2="39.5" y2="331.54" stroke="#555" stroke-width="0.7"/>
<text x="36.5" y="323.66" text-anchor="end" font-size="5.5" letter-spacing="0.02" font-weight="bold" fill="#111" stroke="#111" stroke-width="0.2">-0.002</text>
<line x1="37.5" y1="341.32" x2="39.5" y2="341.32" stroke="#333" stroke-width="0.8"/>
<line x1="38.3" y1="351.10" x2="39.5" y2="351.10" stroke="#555" stroke-width="0.7"/>
<text x="36.5" y="343.22" text-anchor="end" font-size="5.5" letter-spacing="0.02" font-weight="bold" fill="#111" stroke="#111" stroke-width="0.2">-0.004</text>
<line x1="37.5" y1="360.88" x2="39.5" y2="360.88" stroke="#333" stroke-width="0.8"/>
<line x1="38.3" y1="370.66" x2="39.5" y2="370.66" stroke="#555" stroke-width="0.7"/>
<text x="36.5" y="362.78" text-anchor="end" font-size="5.5" letter-spacing="0.02" font-weight="bold" fill="#111" stroke="#111" stroke-width="0.2">-0.006</text>
<line x1="37.5" y1="380.44" x2="39.5" y2="380.44" stroke="#333" stroke-width="0.8"/>
<line x1="38.3" y1="390.22" x2="39.5" y2="390.22" stroke="#555" stroke-width="0.7"/>
<text x="36.5" y="382.34" text-anchor="end" font-size="5.5" letter-spacing="0.02" font-weight="bold" fill="#111" stroke="#111" stroke-width="0.2">-0.008</text>
<line x1="37.5" y1="400.00" x2="39.5" y2="400.00" stroke="#333" stroke-width="0.8"/>
<text x="36.5" y="401.90" text-anchor="end" font-size="5.5" letter-spacing="0.02" font-weight="bold" fill="#111" stroke="#111" stroke-width="0.2">-0.010</text>
<line x1="52.26" y1="399.5" x2="52.26" y2="401.5" stroke="#333" stroke-width="0.8"/>
<text x="52.26" y="407.30" text-anchor="middle" font-size="5.3" letter-spacing="0.2" font-weight="bold" fill="#111" stroke="#111" stroke-width="0.2">100</text>
<line x1="69.28" y1="399.5" x2="69.28" y2="401.5" stroke="#333" stroke-width="0.8"/>
<text x="69.28" y="407.30" text-anchor="middle" font-size="5.3" letter-spacing="0.2" font-weight="bold" fill="#111" stroke="#111" stroke-width="0.2">200</text>
<line x1="86.30" y1="399.5" x2="86.30" y2="401.5" stroke="#333" stroke-width="0.8"/>
<text x="86.30" y="407.30" text-anchor="middle" font-size="5.3" letter-spacing="0.2" font-weight="bold" fill="#111" stroke="#111" stroke-width="0.2">300</text>
<line x1="103.32" y1="399.5" x2="103.32" y2="401.5" stroke="#333" stroke-width="0.8"/>
<text x="103.32" y="407.30" text-anchor="middle" font-size="5.3" letter-spacing="0.2" font-weight="bold" fill="#111" stroke="#111" stroke-width="0.2">400</text>
<line x1="120.34" y1="399.5" x2="120.34" y2="401.5" stroke="#333" stroke-width="0.8"/>
<text x="120.34" y="407.30" text-anchor="middle" font-size="5.3" letter-spacing="0.2" font-weight="bold" fill="#111" stroke="#111" stroke-width="0.2">500</text>
<line x1="137.36" y1="399.5" x2="137.36" y2="401.5" stroke="#333" stroke-width="0.8"/>
<text x="137.36" y="407.30" text-anchor="middle" font-size="5.3" letter-spacing="0.2" font-weight="bold" fill="#111" stroke="#111" stroke-width="0.2">600</text>
<line x1="154.38" y1="399.5" x2="154.38" y2="401.5" stroke="#333" stroke-width="0.8"/>
<text x="154.38" y="407.30" text-anchor="middle" font-size="5.3" letter-spacing="0.2" font-weight="bold" fill="#111" stroke="#111" stroke-width="0.2">700</text>
<line x1="171.40" y1="399.5" x2="171.40" y2="401.5" stroke="#333" stroke-width="0.8"/>
<text x="171.40" y="407.30" text-anchor="middle" font-size="5.3" letter-spacing="0.2" font-weight="bold" fill="#111" stroke="#111" stroke-width="0.2">800</text>
<line x1="43.75" y1="399.5" x2="43.75" y2="400.7" stroke="#555" stroke-width="0.7"/>
<line x1="60.77" y1="399.5" x2="60.77" y2="400.7" stroke="#555" stroke-width="0.7"/>
<line x1="77.79" y1="399.5" x2="77.79" y2="400.7" stroke="#555" stroke-width="0.7"/>
<line x1="94.81" y1="399.5" x2="94.81" y2="400.7" stroke="#555" stroke-width="0.7"/>
<line x1="111.83" y1="399.5" x2="111.83" y2="400.7" stroke="#555" stroke-width="0.7"/>
<line x1="128.85" y1="399.5" x2="128.85" y2="400.7" stroke="#555" stroke-width="0.7"/>
<line x1="145.87" y1="399.5" x2="145.87" y2="400.7" stroke="#555" stroke-width="0.7"/>
<line x1="162.89" y1="399.5" x2="162.89" y2="400.7" stroke="#555" stroke-width="0.7"/>
<text x="105.75" y="421.8" text-anchor="middle" font-size="8" font-weight="bold" fill="#111" stroke="#111" stroke-width="0.15">Temperature (<tspan dy="-2.6" font-size="5.4">O</tspan><tspan dy="2.6">C)</tspan></text>
<text transform="translate(13.3,355.5) rotate(-90)" text-anchor="middle" font-size="7.95" font-weight="bold" fill="#111" stroke="#111" stroke-width="0.15">DTG (%/<tspan dy="-2.4" font-size="5.6">O</tspan><tspan dy="2.4">C)</tspan></text>
<text x="92.5" y="434.3" text-anchor="middle" font-family='"Liberation Serif", serif' font-size="7.8" letter-spacing="0.6" fill="#111" stroke="#111" stroke-width="0.25">(e)</text>
<line x1="50.3" y1="365.40" x2="51.7" y2="365.40" stroke="#8a8a8a" stroke-width="0.9"/>
<text x="58" y="366.80" textLength="33.8" lengthAdjust="spacingAndGlyphs" font-size="4.7" font-weight="bold" fill="#111" stroke="#111" stroke-width="0.1">POEA 10<tspan dy="-1.9" font-size="3.2">o</tspan><tspan dy="1.9">C/min</tspan></text>
<line x1="50.3" y1="371.97" x2="51.7" y2="371.97" stroke="#8a8a8a" stroke-width="0.9"/>
<text x="58" y="373.37" textLength="33.8" lengthAdjust="spacingAndGlyphs" font-size="4.7" font-weight="bold" fill="#111" stroke="#111" stroke-width="0.1">POEA 20<tspan dy="-1.9" font-size="3.2">o</tspan><tspan dy="1.9">C/min</tspan></text>
<line x1="50.3" y1="378.54" x2="51.7" y2="378.54" stroke="#8a8a8a" stroke-width="0.9"/>
<line x1="46.7" y1="378.54" x2="55.3" y2="378.54" stroke="#8a80e6" stroke-opacity="0.35" stroke-width="0.6"/>
<text x="58" y="379.94" textLength="33.8" lengthAdjust="spacingAndGlyphs" font-size="4.7" font-weight="bold" fill="#111" stroke="#111" stroke-width="0.1">POEA 30<tspan dy="-1.9" font-size="3.2">o</tspan><tspan dy="1.9">C/min</tspan></text>
<line x1="50.3" y1="385.11" x2="51.7" y2="385.11" stroke="#8a8a8a" stroke-width="0.9"/>
<line x1="46.7" y1="385.11" x2="55.3" y2="385.11" stroke="#d466dc" stroke-opacity="0.35" stroke-width="0.6"/>
<text x="58" y="386.51" textLength="33.8" lengthAdjust="spacingAndGlyphs" font-size="4.7" font-weight="bold" fill="#111" stroke="#111" stroke-width="0.1">POEA 40<tspan dy="-1.9" font-size="3.2">o</tspan><tspan dy="1.9">C/min</tspan></text>
<line x1="235.5" y1="300.7" x2="366.9" y2="300.7" stroke="#c8c8c8" stroke-width="0.9"/>
<line x1="366.9" y1="300.7" x2="366.9" y2="398.5" stroke="#c8c8c8" stroke-width="0.9"/>
<path d="M235.8,306.7L238.8,304.8L242.0,303.6L246.7,302.5L250.5,302.2L257.3,302.6L263.3,303.5L268.8,305.2L271.9,307.0L275.1,306.4L276.5,306.7L277.8,307.9L279.5,310.3L281.7,314.0L285.3,321.2L287.5,324.1L289.5,325.7L293.0,327.8L300.0,331.2L302.2,332.8L303.8,334.5L305.9,337.4L311.6,346.8L314.4,352.4L315.5,353.5L316.3,353.8L317.5,353.1L318.9,351.0L320.8,347.0L325.2,336.2L327.2,332.2L336.0,316.3L342.9,304.5L344.6,302.0L345.4,301.3L347.1,300.8L350.0,301.0" fill="none" stroke="#1a1a1a" stroke-opacity="0.45" stroke-width="0.75"/>
<path d="M235.8,306.7L238.9,304.8L242.2,303.6L246.7,302.5L250.6,302.2L257.4,302.6L263.2,303.5L268.8,305.2L271.1,306.7L271.9,307.0L272.8,307.0L275.0,306.4L276.4,306.6L277.8,307.9L279.5,310.3L281.7,314.0L285.4,321.3L287.3,323.9L289.3,325.6L292.9,327.7L299.9,331.2L302.2,332.8L303.8,334.5L305.8,337.2L311.4,346.5L314.5,352.4L315.3,353.4L316.2,353.8L316.7,353.7L317.6,353.1L319.0,350.9L320.9,346.7L325.1,336.5L327.4,331.8L336.0,316.1L343.0,304.4L344.7,301.9L345.6,301.2L347.2,300.8L350.0,301.0" fill="none" stroke="#1a1a1a" stroke-width="1.3" stroke-linecap="round" stroke-linejoin="round"/>
<path d="M235.8,306.7L238.8,304.8L242.3,303.5L246.7,302.5L250.8,302.2L256.6,302.5L261.8,303.2L268.0,304.9L271.8,306.8L275.8,306.7L277.3,307.1L284.7,312.1L290.7,318.2L293.0,320.2L299.7,324.1L304.1,327.0L306.1,328.6L307.7,330.3L309.0,332.1L314.2,342.0L316.3,345.3L319.5,348.7L320.9,349.5L322.2,349.8L323.0,349.5L323.8,348.8L325.8,346.2L328.8,343.0L330.7,340.3L339.7,324.8L346.1,314.9L353.1,302.5L354.4,300.6L355.7,300.8L367.0,301.0" fill="none" stroke="#e88585" stroke-opacity="0.45" stroke-width="0.75"/>
<path d="M235.8,306.7L238.9,304.8L242.2,303.6L246.7,302.5L250.9,302.2L256.8,302.5L261.8,303.2L264.6,303.9L268.0,304.9L271.9,306.8L275.8,306.7L277.2,307.1L280.0,309.0L283.1,310.9L284.8,312.1L291.0,318.4L293.2,320.4L299.6,324.1L304.1,327.0L306.1,328.6L307.8,330.4L309.2,332.4L314.2,342.0L316.2,345.1L317.8,347.1L319.2,348.5L320.6,349.4L322.0,349.8L322.9,349.6L323.7,348.9L325.7,346.4L328.8,343.0L330.7,340.3L339.7,324.8L346.4,314.3L350.3,307.6L353.1,302.4L354.2,300.8L354.5,300.6L355.6,300.8L367.0,301.0" fill="none" stroke="#e88585" stroke-width="1.3" stroke-linecap="round" stroke-linejoin="round"/>
<path d="M235.8,306.7L238.8,304.8L242.3,303.5L246.7,302.5L250.8,302.2L256.3,302.5L261.2,303.1L263.8,303.7L268.5,305.1L276.2,306.1L279.5,307.1L282.9,308.6L284.5,309.7L290.1,315.0L292.7,316.9L295.2,317.9L302.6,319.7L305.5,321.1L307.6,322.6L309.8,324.5L311.8,326.9L318.5,337.4L320.7,340.3L322.7,342.4L324.6,344.0L326.5,344.9L328.0,345.2L329.5,344.8L331.3,343.6L338.8,336.6L341.1,333.9L345.0,326.0L350.6,319.7L352.5,316.7L353.9,313.6L356.3,306.0L357.8,302.2L359.0,301.6L360.4,301.4L367.0,301.5" fill="none" stroke="#7575e4" stroke-opacity="0.45" stroke-width="0.75"/>
<path d="M235.8,306.7L238.9,304.8L242.2,303.6L246.7,302.5L250.9,302.2L256.5,302.5L261.3,303.1L263.8,303.7L268.6,305.1L276.1,306.1L279.5,307.1L282.8,308.6L284.5,309.6L285.9,310.8L290.1,315.0L292.6,316.9L295.2,317.9L302.4,319.6L305.2,321.0L307.5,322.4L309.7,324.5L312.0,327.1L318.4,337.3L320.9,340.6L322.9,342.6L324.8,344.1L326.5,344.9L328.2,345.2L329.6,344.8L331.3,343.6L338.6,336.8L341.1,333.9L341.9,332.5L343.9,328.0L345.0,326.0L346.4,324.2L350.6,319.7L352.6,316.7L354.0,313.3L356.5,305.5L357.9,302.1L359.0,301.6L360.4,301.4L367.0,301.5" fill="none" stroke="#7575e4" stroke-width="1.3" stroke-linecap="round" stroke-linejoin="round"/>
<path d="M235.8,306.7L238.8,304.8L242.0,303.6L246.7,302.5L250.5,302.2L256.0,302.5L260.6,303.0L263.5,303.6L268.8,305.2L275.3,305.8L278.2,306.5L282.6,308.3L284.3,308.8L290.3,313.8L293.1,315.5L301.9,318.5L305.5,320.3L310.1,323.9L323.6,336.6L326.1,338.3L328.3,339.0L335.0,339.1L337.1,338.6L338.9,337.8L349.3,329.6L356.7,322.7" fill="none" stroke="#dc55dc" stroke-opacity="0.45" stroke-width="0.75"/>
<path d="M235.8,306.7L238.6,304.9L242.0,303.6L246.4,302.5L250.4,302.2L255.7,302.4L260.4,303.0L263.5,303.6L268.6,305.2L275.6,305.8L278.4,306.6L282.6,308.3L284.0,308.6L284.5,308.9L290.1,313.6L292.9,315.4L295.4,316.5L302.2,318.6L305.5,320.3L307.8,321.9L310.3,324.1L323.7,336.7L326.0,338.2L328.2,338.9L332.7,339.2L334.9,339.1L337.2,338.6L338.8,337.9L340.8,336.5L349.2,329.7L356.7,322.7" fill="none" stroke="#dc55dc" stroke-width="1.3" stroke-linecap="round" stroke-linejoin="round"/>
<path d="M357.00,321.00 L357.14,320.47 L357.34,319.74 L357.57,318.88 L357.83,317.93 L358.11,316.95 L358.40,316.00 L358.71,315.06 L359.06,314.08 L359.42,313.07 L359.80,312.05 L360.16,311.02 L360.50,310.00 L360.83,308.93 L361.16,307.80 L361.49,306.67 L361.79,305.59 L362.07,304.61 L362.30,303.80 L362.44,303.16 L362.49,302.66 L362.51,302.26 L362.56,301.95 L362.71,301.71 L363.00,301.50 L363.52,301.37 L364.24,301.33 L365.04,301.36 L365.84,301.41 L366.53,301.47 L367.00,301.50" fill="none" stroke="#dc55dc" stroke-width="1.3" stroke-dasharray="0.8 1.8"/>
<line x1="235.5" y1="300.7" x2="235.5" y2="398.5" stroke="#777" stroke-width="1"/>
<line x1="235.0" y1="398.5" x2="366.9" y2="398.5" stroke="#444" stroke-width="1"/>
<line x1="233.5" y1="301.50" x2="235.5" y2="301.50" stroke="#333" stroke-width="0.8"/>
<line x1="234.3" y1="307.54" x2="235.5" y2="307.54" stroke="#555" stroke-width="0.7"/>
<text x="232.5" y="303.40" text-anchor="end" font-size="5.5" letter-spacing="0.02" font-weight="bold" fill="#111" stroke="#111" stroke-width="0.2">0.000</text>
<line x1="233.5" y1="313.57" x2="235.5" y2="313.57" stroke="#333" stroke-width="0.8"/>
<line x1="234.3" y1="319.61" x2="235.5" y2="319.61" stroke="#555" stroke-width="0.7"/>
<text x="232.5" y="315.47" text-anchor="end" font-size="5.5" letter-spacing="0.02" font-weight="bold" fill="#111" stroke="#111" stroke-width="0.2">-0.001</text>
<line x1="233.5" y1="325.64" x2="235.5" y2="325.64" stroke="#333" stroke-width="0.8"/>
<line x1="234.3" y1="331.68" x2="235.5" y2="331.68" stroke="#555" stroke-width="0.7"/>
<text x="232.5" y="327.54" text-anchor="end" font-size="5.5" letter-spacing="0.02" font-weight="bold" fill="#111" stroke="#111" stroke-width="0.2">-0.002</text>
<line x1="233.5" y1="337.71" x2="235.5" y2="337.71" stroke="#333" stroke-width="0.8"/>
<line x1="234.3" y1="343.75" x2="235.5" y2="343.75" stroke="#555" stroke-width="0.7"/>
<text x="232.5" y="339.61" text-anchor="end" font-size="5.5" letter-spacing="0.02" font-weight="bold" fill="#111" stroke="#111" stroke-width="0.2">-0.003</text>
<line x1="233.5" y1="349.78" x2="235.5" y2="349.78" stroke="#333" stroke-width="0.8"/>
<line x1="234.3" y1="355.81" x2="235.5" y2="355.81" stroke="#555" stroke-width="0.7"/>
<text x="232.5" y="351.68" text-anchor="end" font-size="5.5" letter-spacing="0.02" font-weight="bold" fill="#111" stroke="#111" stroke-width="0.2">-0.004</text>
<line x1="233.5" y1="361.85" x2="235.5" y2="361.85" stroke="#333" stroke-width="0.8"/>
<line x1="234.3" y1="367.89" x2="235.5" y2="367.89" stroke="#555" stroke-width="0.7"/>
<text x="232.5" y="363.75" text-anchor="end" font-size="5.5" letter-spacing="0.02" font-weight="bold" fill="#111" stroke="#111" stroke-width="0.2">-0.005</text>
<line x1="233.5" y1="373.92" x2="235.5" y2="373.92" stroke="#333" stroke-width="0.8"/>
<line x1="234.3" y1="379.96" x2="235.5" y2="379.96" stroke="#555" stroke-width="0.7"/>
<text x="232.5" y="375.82" text-anchor="end" font-size="5.5" letter-spacing="0.02" font-weight="bold" fill="#111" stroke="#111" stroke-width="0.2">-0.006</text>
<line x1="233.5" y1="385.99" x2="235.5" y2="385.99" stroke="#333" stroke-width="0.8"/>
<line x1="234.3" y1="392.03" x2="235.5" y2="392.03" stroke="#555" stroke-width="0.7"/>
<text x="232.5" y="387.89" text-anchor="end" font-size="5.5" letter-spacing="0.02" font-weight="bold" fill="#111" stroke="#111" stroke-width="0.2">-0.007</text>
<line x1="233.5" y1="398.06" x2="235.5" y2="398.06" stroke="#333" stroke-width="0.8"/>
<text x="232.5" y="399.96" text-anchor="end" font-size="5.5" letter-spacing="0.02" font-weight="bold" fill="#111" stroke="#111" stroke-width="0.2">-0.008</text>
<line x1="248.22" y1="398.5" x2="248.22" y2="400.5" stroke="#333" stroke-width="0.8"/>
<text x="248.22" y="406.30" text-anchor="middle" font-size="5.3" letter-spacing="0.2" font-weight="bold" fill="#111" stroke="#111" stroke-width="0.2">100</text>
<line x1="265.17" y1="398.5" x2="265.17" y2="400.5" stroke="#333" stroke-width="0.8"/>
<text x="265.17" y="406.30" text-anchor="middle" font-size="5.3" letter-spacing="0.2" font-weight="bold" fill="#111" stroke="#111" stroke-width="0.2">200</text>
<line x1="282.13" y1="398.5" x2="282.13" y2="400.5" stroke="#333" stroke-width="0.8"/>
<text x="282.13" y="406.30" text-anchor="middle" font-size="5.3" letter-spacing="0.2" font-weight="bold" fill="#111" stroke="#111" stroke-width="0.2">300</text>
<line x1="299.08" y1="398.5" x2="299.08" y2="400.5" stroke="#333" stroke-width="0.8"/>
<text x="299.08" y="406.30" text-anchor="middle" font-size="5.3" letter-spacing="0.2" font-weight="bold" fill="#111" stroke="#111" stroke-width="0.2">400</text>
<line x1="316.04" y1="398.5" x2="316.04" y2="400.5" stroke="#333" stroke-width="0.8"/>
<text x="316.04" y="406.30" text-anchor="middle" font-size="5.3" letter-spacing="0.2" font-weight="bold" fill="#111" stroke="#111" stroke-width="0.2">500</text>
<line x1="332.99" y1="398.5" x2="332.99" y2="400.5" stroke="#333" stroke-width="0.8"/>
<text x="332.99" y="406.30" text-anchor="middle" font-size="5.3" letter-spacing="0.2" font-weight="bold" fill="#111" stroke="#111" stroke-width="0.2">600</text>
<line x1="349.95" y1="398.5" x2="349.95" y2="400.5" stroke="#333" stroke-width="0.8"/>
<text x="349.95" y="406.30" text-anchor="middle" font-size="5.3" letter-spacing="0.2" font-weight="bold" fill="#111" stroke="#111" stroke-width="0.2">700</text>
<line x1="366.90" y1="398.5" x2="366.90" y2="400.5" stroke="#333" stroke-width="0.8"/>
<text x="366.90" y="406.30" text-anchor="middle" font-size="5.3" letter-spacing="0.2" font-weight="bold" fill="#111" stroke="#111" stroke-width="0.2">800</text>
<line x1="239.74" y1="398.5" x2="239.74" y2="399.7" stroke="#555" stroke-width="0.7"/>
<line x1="256.69" y1="398.5" x2="256.69" y2="399.7" stroke="#555" stroke-width="0.7"/>
<line x1="273.65" y1="398.5" x2="273.65" y2="399.7" stroke="#555" stroke-width="0.7"/>
<line x1="290.60" y1="398.5" x2="290.60" y2="399.7" stroke="#555" stroke-width="0.7"/>
<line x1="307.56" y1="398.5" x2="307.56" y2="399.7" stroke="#555" stroke-width="0.7"/>
<line x1="324.51" y1="398.5" x2="324.51" y2="399.7" stroke="#555" stroke-width="0.7"/>
<line x1="341.47" y1="398.5" x2="341.47" y2="399.7" stroke="#555" stroke-width="0.7"/>
<line x1="358.42" y1="398.5" x2="358.42" y2="399.7" stroke="#555" stroke-width="0.7"/>
<text x="301" y="418.8" text-anchor="middle" font-size="8" font-weight="bold" fill="#111" stroke="#111" stroke-width="0.15">Temperature (<tspan dy="-2.6" font-size="5.4">O</tspan><tspan dy="2.6">C)</tspan></text>
<text transform="translate(211,354.5) rotate(-90)" text-anchor="middle" font-size="7.55" font-weight="bold" fill="#111" stroke="#111" stroke-width="0.15">DTG (%/<tspan dy="-2.4" font-size="5.6">O</tspan><tspan dy="2.4">C)</tspan></text>
<text x="287.2" y="432.3" text-anchor="middle" font-family='"Liberation Serif", serif' font-size="7.8" letter-spacing="0.6" fill="#111" stroke="#111" stroke-width="0.25">(f)</text>
<line x1="254.9" y1="358.40" x2="256.3" y2="358.40" stroke="#8a8a8a" stroke-width="0.9"/>
<text x="262" y="359.80" textLength="33.7" lengthAdjust="spacingAndGlyphs" font-size="4.7" font-weight="bold" fill="#111" stroke="#111" stroke-width="0.1">POEA 10<tspan dy="-1.9" font-size="3.2">o</tspan><tspan dy="1.9">C/min</tspan></text>
<line x1="254.9" y1="365.20" x2="256.3" y2="365.20" stroke="#8a8a8a" stroke-width="0.9"/>
<text x="262" y="366.60" textLength="33.7" lengthAdjust="spacingAndGlyphs" font-size="4.7" font-weight="bold" fill="#111" stroke="#111" stroke-width="0.1">POEA 20<tspan dy="-1.9" font-size="3.2">o</tspan><tspan dy="1.9">C/min</tspan></text>
<line x1="254.9" y1="372.00" x2="256.3" y2="372.00" stroke="#8a8a8a" stroke-width="0.9"/>
<text x="262" y="373.40" textLength="33.7" lengthAdjust="spacingAndGlyphs" font-size="4.7" font-weight="bold" fill="#111" stroke="#111" stroke-width="0.1">POEA 30<tspan dy="-1.9" font-size="3.2">o</tspan><tspan dy="1.9">C/min</tspan></text>
<line x1="254.9" y1="378.80" x2="256.3" y2="378.80" stroke="#8a8a8a" stroke-width="0.9"/>
<text x="262" y="380.20" textLength="33.7" lengthAdjust="spacingAndGlyphs" font-size="4.7" font-weight="bold" fill="#111" stroke="#111" stroke-width="0.1">POEA 40<tspan dy="-1.9" font-size="3.2">o</tspan><tspan dy="1.9">C/min</tspan></text>
</g>
</svg></body></html>
